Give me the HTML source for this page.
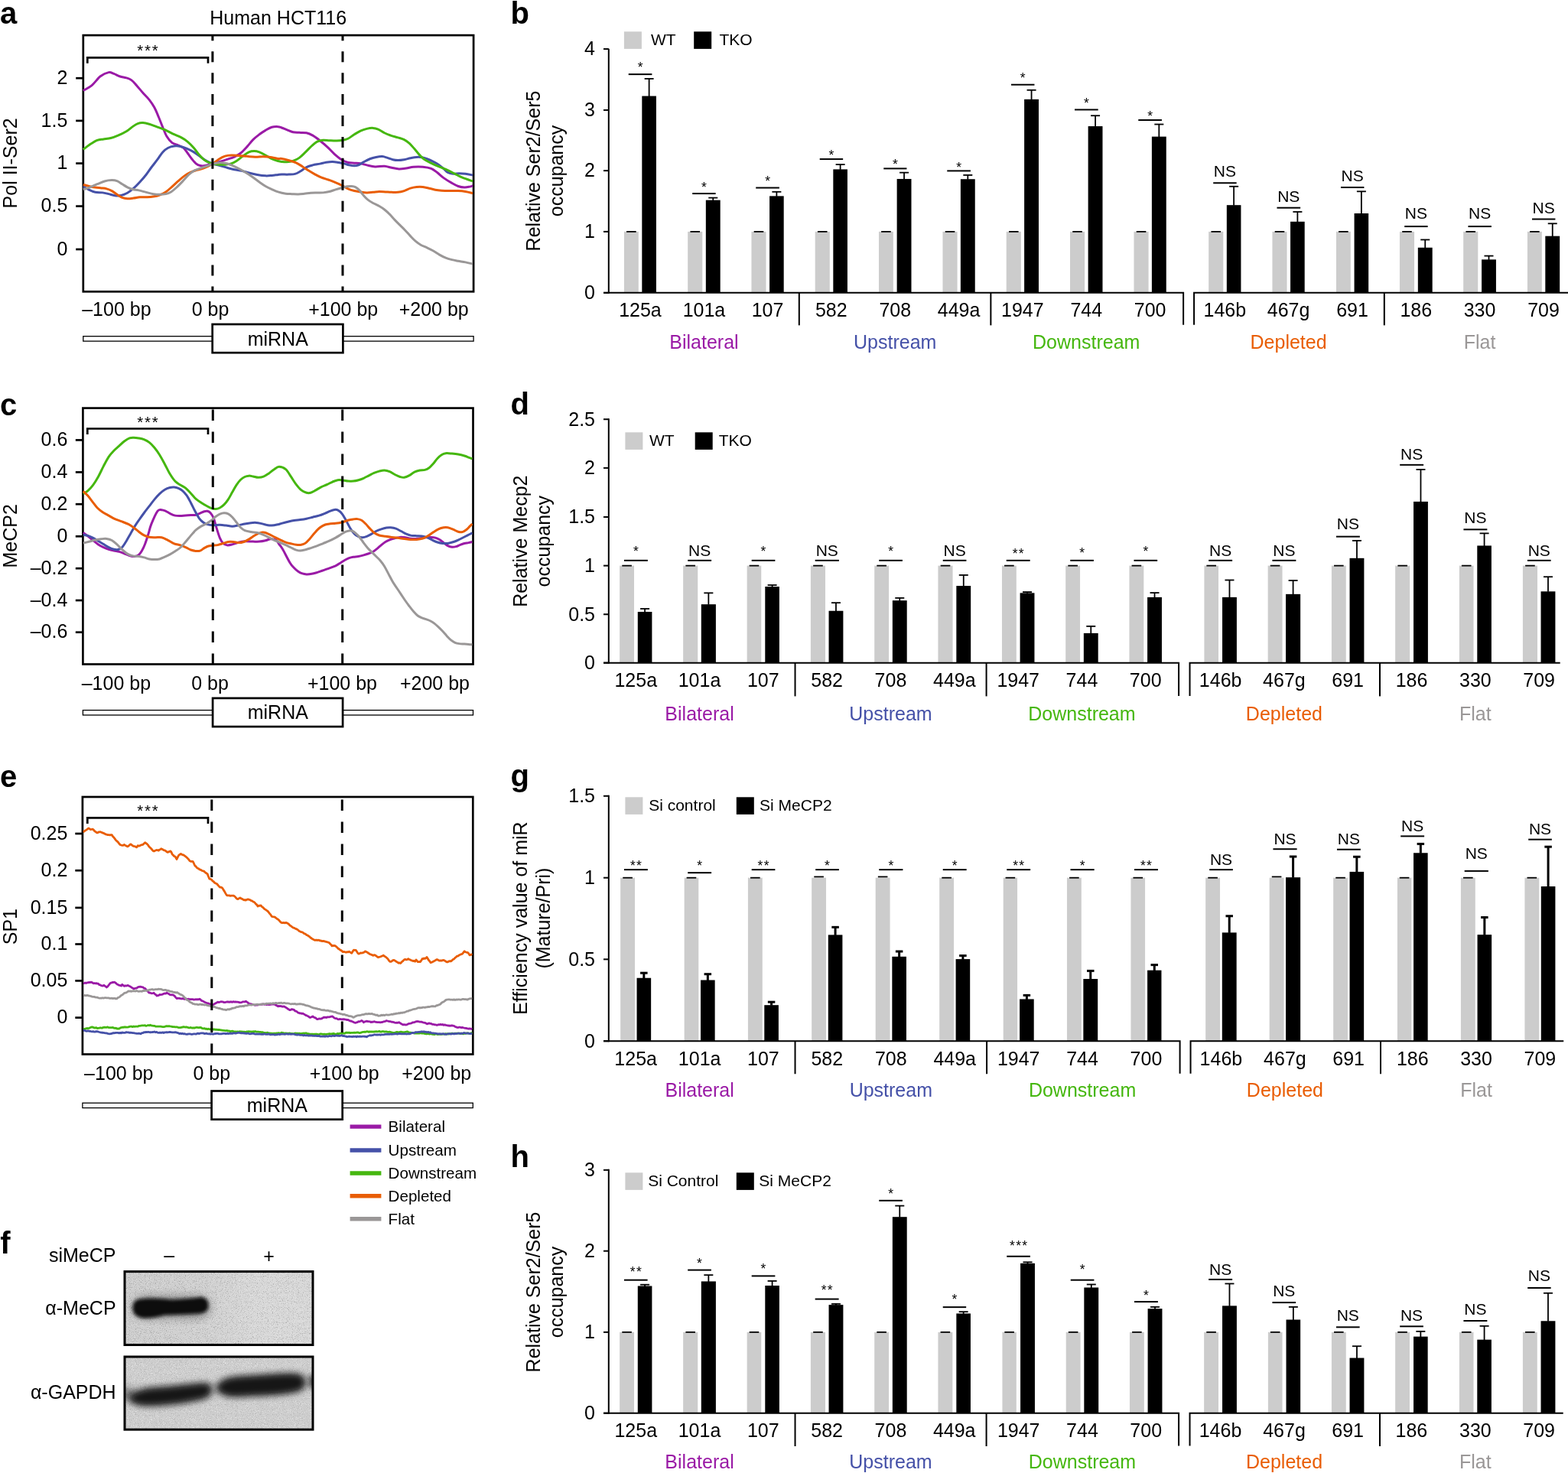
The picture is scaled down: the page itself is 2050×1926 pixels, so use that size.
<!DOCTYPE html>
<html lang="en"><head><meta charset="utf-8"><title>Figure</title>
<style>
html,body{margin:0;padding:0;background:#fff;width:2050px;height:1926px;overflow:hidden}
svg{display:block}
text{font-family:"Liberation Sans",sans-serif}
</style></head><body>
<svg width="2050" height="1926" viewBox="0 0 2050 1926" font-family="Liberation Sans, sans-serif" font-size="25" fill="#000" role="img" aria-label="Multi-panel figure: line profiles, bar charts and western blot">
<rect width="2050" height="1926" fill="#fff"/>
<clipPath id="clip_a"><rect x="107.9" y="46.1" width="512.1" height="335.2"/></clipPath>
<rect x="108.8" y="46.1" width="510.3" height="335.2" fill="none" stroke="#000" stroke-width="2.7"/>
<g clip-path="url(#clip_a)">
<path d="M108.83 118.5C110.75 117.3 116.64 114.43 120.37 111.3C124.11 108.18 127.62 102.54 131.24 99.76C134.86 96.97 139.16 95.16 142.1 94.6C145.05 94.03 146.4 95.46 148.89 96.36C151.38 97.27 154.33 99.12 157.04 100.03C159.76 100.94 162.7 100.98 165.19 101.8C167.68 102.61 169.72 103.22 171.98 104.92C174.25 106.62 176.28 109.22 178.77 111.98C181.26 114.74 184.21 118.43 186.92 121.49C189.64 124.54 192.58 127.15 195.07 130.32C197.56 133.49 199.82 136.77 201.86 140.5C203.9 144.24 205.48 148.43 207.29 152.73C209.1 157.03 210.92 162.01 212.73 166.31C214.54 170.61 216.12 175.14 218.16 178.53C220.2 181.93 222.46 184.76 224.95 186.68C227.44 188.6 230.61 188.94 233.1 190.08C235.59 191.21 237.85 191.77 239.89 193.47C241.93 195.17 243.51 197.88 245.32 200.26C247.13 202.64 248.94 205.47 250.75 207.73C252.57 209.99 254.38 212.37 256.19 213.84C258 215.31 259.58 216.11 261.62 216.56C263.66 217.01 265.69 217.01 268.41 216.56C271.13 216.11 274.75 214.7 277.92 213.84C281.09 212.98 284.26 212.3 287.42 211.4C290.59 210.49 293.76 209.47 296.93 208.41C300.1 207.35 303.5 206.37 306.44 205.02C309.38 203.66 311.87 202.41 314.59 200.26C317.3 198.11 320.02 195.06 322.74 192.11C325.45 189.17 328.17 185.32 330.89 182.61C333.6 179.89 336.32 177.85 339.03 175.81C341.75 173.78 344.47 171.97 347.18 170.38C349.9 168.8 352.62 167.1 355.33 166.31C358.05 165.52 361.34 165.52 363.48 165.63C365.62 165.74 366.24 166.31 368.15 166.99C370.06 167.67 372.45 168.73 374.94 169.7C377.43 170.68 380.37 172.22 383.09 172.83C385.8 173.44 388.29 173.21 391.24 173.37C394.18 173.53 397.8 173.14 400.74 173.78C403.69 174.41 405.95 175.48 408.89 177.17C411.84 178.87 415.23 181.47 418.4 183.96C421.57 186.45 424.74 189.17 427.91 192.11C431.08 195.06 434.25 198.79 437.41 201.62C440.58 204.45 443.98 207.28 446.92 209.09C449.86 210.9 452.35 211.81 455.07 212.48C457.79 213.16 460.5 212.94 463.22 213.16C465.94 213.39 468.65 213.39 471.37 213.84C474.08 214.3 476.35 215.2 479.52 215.88C482.69 216.56 486.53 217.69 490.38 217.92C494.23 218.14 498.98 217.01 502.61 217.24C506.23 217.46 508.94 218.66 512.11 219.28C515.28 219.89 518.45 220.79 521.62 220.91C524.79 221.02 527.96 220.41 531.13 219.95C534.3 219.5 537.01 218.48 540.63 218.19C544.26 217.89 549.01 217.83 552.86 218.19C556.71 218.55 560.55 219.1 563.72 220.37C566.89 221.64 569.15 223.77 571.87 225.8C574.59 227.84 576.85 230.33 580.02 232.6C583.19 234.86 587.72 237.58 590.89 239.39C594.05 241.2 596.32 242.51 599.03 243.46C601.75 244.41 604.69 244.98 607.18 245.09C609.67 245.2 612.16 244.52 613.97 244.14C615.78 243.76 617.37 243.01 618.05 242.78" fill="none" stroke="#9a1aa6" stroke-width="3" stroke-linejoin="round" stroke-linecap="butt"/>
<path d="M108.83 243.73C110.07 244.48 113.69 246.95 116.3 248.21C118.9 249.48 121.5 250.73 124.45 251.34C127.39 251.95 131.01 251.5 133.95 251.88C136.9 252.27 139.39 253.01 142.1 253.65C144.82 254.28 147.54 255.39 150.25 255.68C152.97 255.98 155.68 255.98 158.4 255.41C161.12 254.85 163.83 253.83 166.55 252.29C169.27 250.75 171.98 248.55 174.7 246.18C177.41 243.8 180.13 240.97 182.85 238.03C185.56 235.09 188.51 231.69 191 228.52C193.49 225.35 195.3 222.37 197.79 219.01C200.28 215.66 203.45 211.76 205.94 208.41C208.43 205.06 210.46 201.39 212.73 198.9C214.99 196.41 217.03 194.78 219.52 193.47C222.01 192.16 224.95 191.37 227.67 191.03C230.38 190.69 233.1 190.91 235.81 191.43C238.53 191.95 241.02 192.9 243.96 194.15C246.91 195.39 250.3 196.98 253.47 198.9C256.64 200.83 260.04 203.66 262.98 205.69C265.92 207.73 268.64 209.72 271.13 211.13C273.62 212.53 275.2 213.21 277.92 214.11C280.63 215.02 284.26 215.7 287.42 216.56C290.59 217.42 293.76 218.42 296.93 219.28C300.1 220.14 303.27 221.04 306.44 221.72C309.61 222.4 312.78 222.63 315.95 223.35C319.11 224.07 322.06 225.21 325.45 226.07C328.85 226.93 332.7 227.88 336.32 228.51C339.94 229.14 344.01 229.71 347.18 229.87C350.35 230.03 352.62 229.69 355.33 229.46C358.05 229.24 361.34 228.74 363.48 228.51C365.62 228.28 365.79 228.17 368.15 228.1C370.51 228.04 374.71 228.22 377.66 228.1C380.6 227.99 383.31 228.1 385.8 227.42C388.29 226.75 390.11 225.5 392.6 224.03C395.09 222.56 398.03 219.95 400.74 218.6C403.46 217.24 405.95 216.63 408.89 215.88C411.84 215.13 415.46 214.73 418.4 214.11C421.34 213.5 423.83 212.67 426.55 212.21C429.27 211.76 431.98 211.35 434.7 211.4C437.41 211.44 440.36 212.08 442.85 212.48C445.34 212.89 447.37 213.28 449.64 213.84C451.9 214.41 454.16 215.38 456.43 215.88C458.69 216.38 461.18 216.83 463.22 216.83C465.26 216.83 466.61 216.72 468.65 215.88C470.69 215.04 472.95 213.16 475.44 211.81C477.93 210.45 480.88 208.8 483.59 207.73C486.31 206.67 489.02 205.94 491.74 205.42C494.46 204.9 497.4 204.45 499.89 204.61C502.38 204.77 504.42 205.69 506.68 206.37C508.94 207.05 511.21 208.16 513.47 208.68C515.73 209.2 517.77 209.5 520.26 209.5C522.75 209.5 525.69 209.13 528.41 208.68C531.13 208.23 533.84 207.32 536.56 206.78C539.28 206.24 542.22 205.6 544.71 205.42C547.2 205.24 549.24 205.31 551.5 205.69C553.76 206.08 555.8 206.78 558.29 207.73C560.78 208.68 563.95 210.15 566.44 211.4C568.93 212.64 570.97 213.66 573.23 215.2C575.49 216.74 577.98 218.94 580.02 220.63C582.06 222.33 583.42 224.3 585.45 225.39C587.49 226.47 589.75 226.93 592.24 227.15C594.73 227.38 597.68 226.75 600.39 226.75C603.11 226.75 605.6 226.77 608.54 227.15C611.48 227.54 616.46 228.74 618.05 229.05" fill="none" stroke="#4551a8" stroke-width="3" stroke-linejoin="round" stroke-linecap="butt"/>
<path d="M108.83 195.51C110.3 194.38 114.6 190.75 117.66 188.72C120.71 186.68 124.22 184.42 127.16 183.28C130.11 182.15 132.37 182.38 135.31 181.93C138.25 181.47 141.65 181.36 144.82 180.57C147.99 179.78 150.93 178.64 154.33 177.17C157.72 175.7 162.02 173.66 165.19 171.74C168.36 169.82 170.85 167.33 173.34 165.63C175.83 163.93 177.87 162.39 180.13 161.55C182.39 160.72 184.43 160.49 186.92 160.6C189.41 160.72 192.13 161.4 195.07 162.23C198.01 163.07 201.18 164.38 204.58 165.63C207.97 166.87 211.82 168.12 215.44 169.7C219.06 171.29 222.69 173.44 226.31 175.14C229.93 176.83 234 178.19 237.17 179.89C240.34 181.59 242.61 183.06 245.32 185.32C248.04 187.59 250.98 190.64 253.47 193.47C255.96 196.3 258 199.7 260.26 202.3C262.53 204.9 264.79 207.35 267.05 209.09C269.32 210.83 272.03 211.96 273.84 212.76C275.65 213.55 275.88 213.44 277.92 213.84C279.95 214.25 283.35 214.97 286.07 215.2C288.78 215.43 291.5 215.43 294.22 215.2C296.93 214.97 299.87 214.64 302.36 213.84C304.85 213.05 306.66 212.03 309.15 210.45C311.64 208.86 314.59 206.26 317.3 204.34C320.02 202.41 322.96 200.04 325.45 198.9C327.94 197.77 329.98 197.55 332.24 197.55C334.51 197.55 336.54 198 339.03 198.9C341.52 199.81 344.47 201.51 347.18 202.98C349.9 204.45 352.62 206.49 355.33 207.73C358.05 208.98 361.34 209.84 363.48 210.45C365.62 211.06 366.24 211.17 368.15 211.4C370.06 211.62 372.45 211.96 374.94 211.81C377.43 211.65 380.37 211.35 383.09 210.45C385.8 209.54 388.52 208.3 391.24 206.37C393.95 204.45 396.67 201.51 399.39 198.9C402.1 196.3 405.05 193.02 407.54 190.75C410.03 188.49 411.84 186.57 414.33 185.32C416.82 184.08 419.76 183.56 422.47 183.28C425.19 183.01 427.68 183.58 430.62 183.69C433.57 183.81 437.19 184.03 440.13 183.96C443.07 183.9 445.79 183.74 448.28 183.28C450.77 182.83 452.58 182.49 455.07 181.25C457.56 180 460.5 177.51 463.22 175.81C465.94 174.12 468.65 172.31 471.37 171.06C474.08 169.82 476.8 168.96 479.52 168.35C482.23 167.73 485.18 167.28 487.67 167.39C490.16 167.51 491.97 167.96 494.46 169.02C496.95 170.09 499.89 172.42 502.61 173.78C505.32 175.14 507.81 176.15 510.75 177.17C513.7 178.19 517.32 178.98 520.26 179.89C523.2 180.79 525.92 181.36 528.41 182.61C530.9 183.85 532.94 185.32 535.2 187.36C537.46 189.4 539.5 192 541.99 194.83C544.48 197.66 547.65 201.85 550.14 204.34C552.63 206.83 554.22 208.07 556.93 209.77C559.65 211.47 563.27 213.05 566.44 214.52C569.61 215.99 572.78 217.24 575.95 218.6C579.11 219.95 582.28 221.2 585.45 222.67C588.62 224.14 591.79 225.84 594.96 227.42C598.13 229.01 600.62 230.59 604.47 232.18C608.31 233.76 615.78 236.14 618.05 236.93" fill="none" stroke="#45b70f" stroke-width="3" stroke-linejoin="round" stroke-linecap="butt"/>
<path d="M108.83 241.42C110.07 241.76 113.69 242.85 116.3 243.46C118.9 244.07 121.73 244.68 124.45 245.09C127.16 245.5 130.11 245.61 132.6 245.91C135.09 246.2 137.12 246.24 139.39 246.86C141.65 247.47 143.91 248.33 146.18 249.57C148.44 250.82 150.7 252.85 152.97 254.33C155.23 255.8 157.49 257.49 159.76 258.4C162.02 259.31 164.06 259.65 166.55 259.76C169.04 259.87 171.98 259.42 174.7 259.08C177.41 258.74 179.9 257.95 182.85 257.72C185.79 257.49 189.41 257.83 192.35 257.72C195.3 257.61 197.79 257.49 200.5 257.04C203.22 256.59 205.94 256.02 208.65 255.01C211.37 253.99 214.08 252.74 216.8 250.93C219.52 249.12 222.23 246.52 224.95 244.14C227.67 241.76 230.38 239.05 233.1 236.67C235.81 234.29 238.53 231.8 241.25 229.88C243.96 227.96 246.68 226.37 249.4 225.13C252.11 223.88 254.6 223.31 257.55 222.41C260.49 221.5 263.66 221.05 267.05 219.69C270.45 218.34 274.75 216.18 277.92 214.26C281.09 212.34 283.35 209.85 286.07 208.15C288.78 206.45 291.5 204.93 294.22 204.07C296.93 203.21 299.42 203.1 302.36 202.99C305.31 202.87 308.48 203.17 311.87 203.4C315.27 203.62 319.11 204.05 322.74 204.35C326.36 204.64 329.98 205.09 333.6 205.16C337.22 205.23 340.85 204.66 344.47 204.75C348.09 204.84 352.16 205.25 355.33 205.7C358.5 206.16 361.34 207.18 363.48 207.47C365.62 207.76 365.79 207.09 368.15 207.47C370.51 207.85 374.49 208.87 377.66 209.78C380.82 210.68 384.22 211.59 387.16 212.9C390.11 214.22 392.6 215.96 395.31 217.66C398.03 219.35 400.74 221.39 403.46 223.09C406.18 224.79 408.89 226.37 411.61 227.84C414.33 229.31 416.82 230.72 419.76 231.92C422.7 233.12 426.32 234.02 429.27 235.04C432.21 236.06 434.47 236.81 437.41 238.03C440.36 239.25 443.98 240.9 446.92 242.37C449.86 243.85 452.35 245.66 455.07 246.86C457.79 248.06 460.5 248.89 463.22 249.57C465.94 250.25 468.65 250.55 471.37 250.93C474.08 251.32 476.8 251.81 479.52 251.88C482.23 251.95 484.95 251.56 487.67 251.34C490.38 251.11 493.1 250.59 495.81 250.52C498.53 250.46 501.25 250.79 503.96 250.93C506.68 251.07 509.4 251.27 512.11 251.34C514.83 251.41 517.55 251.63 520.26 251.34C522.98 251.04 525.69 250.43 528.41 249.57C531.13 248.71 533.84 247.01 536.56 246.18C539.28 245.34 541.99 244.82 544.71 244.55C547.42 244.28 550.14 244.28 552.86 244.55C555.57 244.82 558.29 245.57 561.01 246.18C563.72 246.79 566.44 247.72 569.15 248.21C571.87 248.71 574.13 248.94 577.3 249.16C580.47 249.39 584.55 249.5 588.17 249.57C591.79 249.64 595.64 249.41 599.03 249.57C602.43 249.73 605.37 250 608.54 250.52C611.71 251.04 616.46 252.33 618.05 252.7" fill="none" stroke="#e95d04" stroke-width="3" stroke-linejoin="round" stroke-linecap="butt"/>
<path d="M108.83 247.81C110.3 247.31 114.6 246 117.66 244.82C120.71 243.64 123.99 242.06 127.16 240.74C130.33 239.43 133.5 237.8 136.67 236.94C139.84 236.08 143.46 235.63 146.18 235.58C148.89 235.54 150.7 235.81 152.97 236.67C155.23 237.53 157.49 239.39 159.76 240.74C162.02 242.1 164.29 243.69 166.55 244.82C168.81 245.95 170.85 246.86 173.34 247.54C175.83 248.21 178.55 248.26 181.49 248.89C184.43 249.53 187.83 250.55 191 251.34C194.16 252.13 197.56 253.15 200.5 253.65C203.45 254.14 205.94 254.33 208.65 254.33C211.37 254.33 214.31 254.21 216.8 253.65C219.29 253.08 221.33 252.29 223.59 250.93C225.86 249.57 227.89 247.76 230.38 245.5C232.87 243.23 235.81 240.18 238.53 237.35C241.25 234.52 244.19 230.85 246.68 228.52C249.17 226.19 250.98 224.76 253.47 223.36C255.96 221.96 258.9 221.1 261.62 220.1C264.34 219.1 267.05 218.36 269.77 217.38C272.48 216.41 275.43 215.01 277.92 214.26C280.41 213.51 282.44 213.13 284.71 212.9C286.97 212.68 289.24 212.68 291.5 212.9C293.76 213.13 295.8 213.47 298.29 214.26C300.78 215.05 303.72 216.41 306.44 217.66C309.15 218.9 311.87 220.26 314.59 221.73C317.3 223.2 320.02 224.79 322.74 226.48C325.45 228.18 328.17 229.99 330.89 231.92C333.6 233.84 336.32 236.1 339.03 238.03C341.75 239.95 344.47 241.88 347.18 243.46C349.9 245.05 352.62 246.29 355.33 247.54C358.05 248.78 360.44 249.98 363.48 250.93C366.52 251.88 370.54 252.79 373.58 253.24C376.62 253.69 379.01 253.53 381.73 253.65C384.45 253.76 387.16 253.99 389.88 253.92C392.6 253.85 395.31 253.51 398.03 253.24C400.74 252.97 403.46 252.49 406.18 252.29C408.89 252.09 411.61 252.09 414.33 252.02C417.04 251.95 419.76 252.13 422.47 251.88C425.19 251.63 427.91 251.2 430.62 250.52C433.34 249.84 436.06 248.64 438.77 247.81C441.49 246.97 444.43 246.18 446.92 245.5C449.41 244.82 451.68 244.07 453.71 243.73C455.75 243.39 457.33 243.32 459.14 243.46C460.96 243.6 462.77 243.64 464.58 244.55C466.39 245.45 468.2 247.04 470.01 248.89C471.82 250.75 473.63 253.65 475.44 255.68C477.25 257.72 478.84 259.49 480.88 261.12C482.91 262.75 485.18 264.06 487.67 265.46C490.16 266.87 493.32 268.11 495.81 269.54C498.3 270.96 500.34 272.25 502.61 274.02C504.87 275.78 507.13 277.87 509.4 280.13C511.66 282.39 513.92 285.22 516.19 287.6C518.45 289.98 520.71 292.13 522.98 294.39C525.24 296.65 527.51 298.81 529.77 301.18C532.03 303.56 534.3 306.28 536.56 308.65C538.82 311.03 541.09 313.52 543.35 315.44C545.61 317.37 547.65 318.79 550.14 320.2C552.63 321.6 555.57 322.57 558.29 323.86C561.01 325.15 563.72 326.4 566.44 327.94C569.15 329.48 571.87 331.56 574.59 333.1C577.3 334.64 580.02 336.09 582.74 337.17C585.45 338.26 588.17 338.94 590.89 339.62C593.6 340.3 596.09 340.7 599.03 341.25C601.98 341.79 605.37 342.24 608.54 342.88C611.71 343.51 616.46 344.69 618.05 345.05" fill="none" stroke="#9a9797" stroke-width="3" stroke-linejoin="round" stroke-linecap="butt"/>
</g>
<line x1="277.9" y1="46.1" x2="277.9" y2="381.3" stroke="#000" stroke-width="3" stroke-dasharray="14 13.93" stroke-dashoffset="6.83"/>
<line x1="448" y1="46.1" x2="448" y2="381.3" stroke="#000" stroke-width="3" stroke-dasharray="14 13.93" stroke-dashoffset="6.83"/>
<line x1="99.2" y1="102.2" x2="108.8" y2="102.2" stroke="#000" stroke-width="2.7"/>
<text x="88.3" y="109.9" text-anchor="end">2</text>
<line x1="99.2" y1="157.9" x2="108.8" y2="157.9" stroke="#000" stroke-width="2.7"/>
<text x="88.3" y="165.6" text-anchor="end">1.5</text>
<line x1="99.2" y1="213.6" x2="108.8" y2="213.6" stroke="#000" stroke-width="2.7"/>
<text x="88.3" y="221.3" text-anchor="end">1</text>
<line x1="99.2" y1="269.6" x2="108.8" y2="269.6" stroke="#000" stroke-width="2.7"/>
<text x="88.3" y="277.3" text-anchor="end">0.5</text>
<line x1="99.2" y1="326" x2="108.8" y2="326" stroke="#000" stroke-width="2.7"/>
<text x="88.3" y="333.7" text-anchor="end">0</text>
<path d="M114.3 82.8 V75.3 H272 V82.8" fill="none" stroke="#000" stroke-width="2.7"/>
<text x="179.3" y="73.32" font-size="20.5" letter-spacing="1.73">***</text>
<text x="107.2" y="412.8">–100 bp</text>
<text x="275" y="412.8" text-anchor="middle">0 bp</text>
<text x="448.7" y="412.8" text-anchor="middle">+100 bp</text>
<text x="567.2" y="412.8" text-anchor="middle">+200 bp</text>
<rect x="108.8" y="439.7" width="510.3" height="6.4" fill="#fff" stroke="#000" stroke-width="1.3"/>
<rect x="277.7" y="424" width="170.7" height="37.2" fill="#fff" stroke="#000" stroke-width="2.7"/>
<text x="363.25" y="451.5" text-anchor="middle">miRNA</text>
<text text-anchor="middle" transform="translate(21.8 213.4) rotate(-90)">Pol II-Ser2</text>
<text x="363.7" y="31.9" text-anchor="middle">Human HCT116</text>
<text x="0" y="31.4" font-weight="bold" font-size="40">a</text>
<clipPath id="clip_c"><rect x="107.5" y="533.6" width="511.9" height="334.9"/></clipPath>
<rect x="108.4" y="533.6" width="510.1" height="334.9" fill="none" stroke="#000" stroke-width="2.7"/>
<g clip-path="url(#clip_c)">
<path d="M108.83 696.57C109.85 697.32 112.79 699.4 114.94 701.05C117.09 702.7 119.47 704.67 121.73 706.48C123.99 708.29 126.26 710.4 128.52 711.92C130.78 713.43 133.05 714.52 135.31 715.58C137.58 716.65 139.84 717.55 142.1 718.3C144.37 719.05 146.63 719.54 148.89 720.07C151.16 720.59 153.42 720.81 155.68 721.42C157.95 722.03 160.21 722.89 162.47 723.73C164.74 724.57 167 725.81 169.27 726.45C171.53 727.08 174.02 727.69 176.06 727.54C178.09 727.38 179.9 726.74 181.49 725.5C183.07 724.25 184.21 722.44 185.56 720.07C186.92 717.69 188.28 714.75 189.64 711.24C191 707.73 192.35 703.31 193.71 699.01C195.07 694.71 195.75 690.55 197.79 685.43C199.82 680.32 203.67 671.44 205.94 668.31C208.2 665.18 209.56 666.68 211.37 666.68C213.18 666.68 214.99 667.52 216.8 668.31C218.61 669.1 220.2 670.46 222.23 671.43C224.27 672.41 226.76 673.63 229.02 674.15C231.29 674.67 233.55 674.6 235.81 674.56C238.08 674.51 240.34 674.06 242.61 673.88C244.87 673.7 247.13 673.58 249.4 673.47C251.66 673.36 254.15 673.61 256.19 673.2C258.22 672.79 259.81 671.77 261.62 671.03C263.43 670.28 265.47 669.17 267.05 668.72C268.64 668.26 269.77 667.97 271.13 668.31C272.48 668.65 273.84 669.22 275.2 670.75C276.56 672.29 277.92 674.15 279.28 677.55C280.63 680.94 281.99 686.83 283.35 691.13C284.71 695.43 286.07 700.18 287.42 703.35C288.78 706.52 289.91 708.56 291.5 710.14C293.08 711.73 294.89 712.56 296.93 712.86C298.97 713.15 301.23 712.52 303.72 711.91C306.21 711.3 309.15 709.87 311.87 709.19C314.59 708.51 316.85 708.01 320.02 707.83C323.19 707.65 327.72 708.06 330.89 708.1C334.05 708.15 336.32 708.33 339.03 708.1C341.75 707.88 344.69 707.31 347.18 706.75C349.67 706.18 351.71 704.82 353.97 704.71C356.24 704.6 358.95 704.93 360.76 706.07C362.58 707.2 363.38 709.51 364.84 711.5C366.3 713.49 367.14 714 369.51 718.03C371.87 722.06 376.52 731.61 379.01 735.68C381.5 739.76 382.64 740.55 384.45 742.47C386.26 744.4 388.07 745.98 389.88 747.23C391.69 748.47 393.5 749.33 395.31 749.94C397.12 750.56 398.71 750.83 400.74 750.9C402.78 750.96 405.27 750.74 407.54 750.35C409.8 749.97 412.06 749.27 414.33 748.59C416.59 747.91 418.85 747.07 421.12 746.28C423.38 745.49 425.64 744.65 427.91 743.83C430.17 743.02 432.66 742.18 434.7 741.39C436.74 740.6 438.32 740.03 440.13 739.08C441.94 738.13 443.75 736.82 445.56 735.68C447.37 734.55 449.19 733.31 451 732.29C452.81 731.27 454.62 730.25 456.43 729.57C458.24 728.89 459.82 728.55 461.86 728.21C463.9 727.87 466.39 727.92 468.65 727.54C470.92 727.15 473.18 726.54 475.44 725.91C477.71 725.27 480.2 724.48 482.23 723.73C484.27 722.99 485.86 722.49 487.67 721.42C489.48 720.36 491.29 718.82 493.1 717.35C494.91 715.88 496.72 714.07 498.53 712.6C500.34 711.12 502.15 709.65 503.96 708.52C505.77 707.39 507.36 706.6 509.4 705.8C511.43 705.01 513.92 704.33 516.19 703.77C518.45 703.2 520.71 702.57 522.98 702.41C525.24 702.25 527.51 702.52 529.77 702.82C532.03 703.11 534.3 703.9 536.56 704.18C538.82 704.45 541.09 704.51 543.35 704.45C545.61 704.38 547.88 704.04 550.14 703.77C552.4 703.5 554.67 703.04 556.93 702.82C559.2 702.59 561.69 702.36 563.72 702.41C565.76 702.45 567.34 702.57 569.15 703.09C570.97 703.61 572.78 704.45 574.59 705.53C576.4 706.62 578.21 708.25 580.02 709.61C581.83 710.97 583.64 712.73 585.45 713.68C587.26 714.63 589.07 715.15 590.89 715.31C592.7 715.47 594.51 715.13 596.32 714.63C598.13 714.13 599.94 713 601.75 712.32C603.56 711.64 605.37 711.01 607.18 710.56C608.99 710.11 610.92 709.95 612.62 709.61C614.31 709.27 616.58 708.7 617.37 708.52" fill="none" stroke="#9a1aa6" stroke-width="3" stroke-linejoin="round" stroke-linecap="butt"/>
<path d="M108.83 699.28C109.85 699.46 112.79 699.68 114.94 700.36C117.09 701.04 119.47 702.17 121.73 703.35C123.99 704.53 126.26 706.07 128.52 707.42C130.78 708.78 133.05 710.14 135.31 711.5C137.58 712.86 139.84 714.44 142.1 715.57C144.37 716.71 146.86 717.79 148.89 718.29C150.93 718.79 152.52 719.01 154.33 718.56C156.14 718.11 157.95 717.43 159.76 715.57C161.57 713.72 163.38 710.37 165.19 707.42C167 704.48 168.81 701.09 170.62 697.92C172.43 694.75 174.25 691.35 176.06 688.41C177.87 685.47 179.45 683.2 181.49 680.26C183.53 677.32 186.02 673.81 188.28 670.75C190.54 667.7 192.81 664.87 195.07 661.93C197.33 658.98 199.6 655.81 201.86 653.1C204.12 650.38 206.39 647.78 208.65 645.63C210.92 643.48 213.18 641.55 215.44 640.2C217.71 638.84 220.2 638 222.23 637.48C224.27 636.96 225.86 636.91 227.67 637.07C229.48 637.23 231.29 637.68 233.1 638.43C234.91 639.18 236.72 640.02 238.53 641.55C240.34 643.09 242.15 645.06 243.96 647.67C245.77 650.27 247.59 653.78 249.4 657.17C251.21 660.57 253.02 664.64 254.83 668.04C256.64 671.43 258.45 675.06 260.26 677.55C262.07 680.04 263.88 681.62 265.69 682.98C267.51 684.34 269.09 685.06 271.13 685.69C273.16 686.33 275.2 686.67 277.92 686.78C280.63 686.89 284.48 686.33 287.42 686.37C290.37 686.42 292.86 686.76 295.57 687.05C298.29 687.35 301.01 688.18 303.72 688.14C306.44 688.09 309.15 687.3 311.87 686.78C314.59 686.26 317.3 685.54 320.02 685.02C322.74 684.49 325.68 683.93 328.17 683.66C330.66 683.39 332.7 683.23 334.96 683.39C337.22 683.54 339.49 684.11 341.75 684.61C344.01 685.11 346.28 685.97 348.54 686.37C350.8 686.78 352.84 687.17 355.33 687.05C357.82 686.94 361.34 686.15 363.48 685.69C365.62 685.24 366.01 684.9 368.15 684.34C370.29 683.77 373.58 682.93 376.3 682.3C379.01 681.66 381.73 680.99 384.45 680.53C387.16 680.08 389.88 679.97 392.6 679.58C395.31 679.2 398.03 678.79 400.74 678.22C403.46 677.66 406.18 676.87 408.89 676.19C411.61 675.51 414.33 675.01 417.04 674.15C419.76 673.29 422.7 672.04 425.19 671.03C427.68 670.01 429.94 668.81 431.98 668.04C434.02 667.27 435.83 666.59 437.41 666.41C439 666.23 439.9 666.11 441.49 666.95C443.07 667.79 445.11 669.22 446.92 671.43C448.73 673.65 450.54 677.09 452.35 680.26C454.16 683.43 455.98 687.51 457.79 690.45C459.6 693.39 461.41 696.04 463.22 697.92C465.03 699.8 466.84 700.93 468.65 701.72C470.46 702.51 472.27 702.74 474.08 702.67C475.9 702.6 477.71 701.99 479.52 701.31C481.33 700.63 482.91 699.73 484.95 698.6C486.99 697.46 489.48 695.65 491.74 694.52C494 693.39 496.27 692.55 498.53 691.81C500.79 691.06 503.28 690.38 505.32 690.04C507.36 689.7 508.72 689.59 510.75 689.77C512.79 689.95 515.28 690.33 517.55 691.13C519.81 691.92 522.07 693.35 524.34 694.52C526.6 695.7 528.86 697.22 531.13 698.19C533.39 699.16 535.65 699.95 537.92 700.36C540.18 700.77 542.44 700.54 544.71 700.63C546.97 700.72 549.24 700.57 551.5 700.91C553.76 701.24 556.03 701.81 558.29 702.67C560.55 703.53 562.82 705 565.08 706.07C567.34 707.13 569.61 708.33 571.87 709.05C574.13 709.78 576.4 710.19 578.66 710.41C580.93 710.64 583.19 710.68 585.45 710.41C587.72 710.14 589.98 709.51 592.24 708.78C594.51 708.06 596.54 707.2 599.03 706.07C601.52 704.93 604.92 703.12 607.18 701.99C609.45 700.86 610.92 700.14 612.62 699.28C614.31 698.42 616.58 697.24 617.37 696.83" fill="none" stroke="#4551a8" stroke-width="3" stroke-linejoin="round" stroke-linecap="butt"/>
<path d="M108.83 645.63C109.85 644.95 112.79 643.48 114.94 641.55C117.09 639.63 119.47 637.14 121.73 634.08C123.99 631.03 126.26 627.29 128.52 623.22C130.78 619.14 133.05 613.94 135.31 609.64C137.58 605.34 139.84 600.81 142.1 597.41C144.37 594.02 146.63 591.64 148.89 589.27C151.16 586.89 153.42 585.19 155.68 583.15C157.95 581.12 160.21 578.74 162.47 577.04C164.74 575.34 167.23 573.76 169.27 572.97C171.3 572.18 172.66 572.29 174.7 572.29C176.74 572.29 179.23 572.58 181.49 572.97C183.75 573.35 186.02 573.69 188.28 574.6C190.54 575.5 192.81 576.63 195.07 578.4C197.33 580.17 199.6 582.47 201.86 585.19C204.12 587.91 206.39 591.08 208.65 594.7C210.92 598.32 213.18 602.73 215.44 606.92C217.71 611.11 219.97 616.09 222.23 619.82C224.5 623.56 226.76 626.95 229.02 629.33C231.29 631.71 233.55 632.61 235.81 634.08C238.08 635.56 240.34 636.35 242.61 638.16C244.87 639.97 247.13 642.57 249.4 644.95C251.66 647.33 253.92 650.38 256.19 652.42C258.45 654.46 260.71 655.7 262.98 657.17C265.24 658.64 267.51 660 269.77 661.25C272.03 662.49 274.52 663.92 276.56 664.64C278.6 665.37 280.18 665.71 281.99 665.59C283.8 665.48 285.61 664.91 287.42 663.96C289.24 663.01 291.05 661.7 292.86 659.89C294.67 658.08 296.48 655.81 298.29 653.1C300.1 650.38 301.91 646.76 303.72 643.59C305.53 640.42 307.34 636.8 309.15 634.08C310.97 631.37 312.78 629.06 314.59 627.29C316.4 625.53 318.21 624.35 320.02 623.49C321.83 622.63 323.64 622.22 325.45 622.13C327.26 622.04 328.85 622.59 330.89 622.95C332.92 623.31 335.41 624.26 337.68 624.31C339.94 624.35 342.2 624.08 344.47 623.22C346.73 622.36 348.99 620.68 351.26 619.14C353.52 617.61 355.78 615.46 358.05 613.98C360.31 612.51 362.25 610.36 364.84 610.32C367.43 610.27 370.99 611.56 373.58 613.71C376.17 615.86 378.11 619.94 380.37 623.22C382.64 626.5 384.9 630.46 387.16 633.41C389.43 636.35 391.69 639.06 393.95 640.88C396.22 642.69 398.71 643.7 400.74 644.27C402.78 644.84 404.14 644.84 406.18 644.27C408.21 643.7 410.7 642.12 412.97 640.88C415.23 639.63 417.27 638.05 419.76 636.8C422.25 635.56 425.42 634.54 427.91 633.41C430.4 632.27 432.43 630.96 434.7 630.01C436.96 629.06 439.23 628.04 441.49 627.7C443.75 627.36 446.02 627.75 448.28 627.97C450.54 628.2 452.81 628.88 455.07 629.06C457.33 629.24 459.6 629.29 461.86 629.06C464.12 628.83 466.39 628.34 468.65 627.7C470.92 627.07 473.18 626.23 475.44 625.26C477.71 624.28 479.97 622.99 482.23 621.86C484.5 620.73 486.76 619.42 489.02 618.47C491.29 617.52 493.55 616.72 495.81 616.16C498.08 615.59 500.34 614.98 502.61 615.07C504.87 615.16 507.13 615.79 509.4 616.7C511.66 617.61 513.92 619.37 516.19 620.5C518.45 621.63 520.94 622.86 522.98 623.49C525.02 624.12 526.37 624.62 528.41 624.31C530.45 623.99 532.94 622.79 535.2 621.59C537.46 620.39 539.73 618.19 541.99 617.11C544.26 616.02 546.52 615.52 548.78 615.07C551.05 614.62 553.54 614.96 555.57 614.39C557.61 613.83 559.2 613.03 561.01 611.68C562.82 610.32 564.63 608.28 566.44 606.24C568.25 604.21 570.06 601.38 571.87 599.45C573.68 597.53 575.49 595.83 577.3 594.7C579.11 593.57 580.47 592.93 582.74 592.66C585 592.39 588.17 592.84 590.89 593.07C593.6 593.29 596.32 593.52 599.03 594.02C601.75 594.52 604.92 595.38 607.18 596.06C609.45 596.74 610.92 597.46 612.62 598.09C614.31 598.73 616.58 599.56 617.37 599.86" fill="none" stroke="#45b70f" stroke-width="3" stroke-linejoin="round" stroke-linecap="butt"/>
<path d="M108.83 642.23C109.85 643.25 112.79 645.86 114.94 648.35C117.09 650.84 119.69 654.57 121.73 657.17C123.77 659.78 125.13 661.93 127.16 663.96C129.2 666 131.46 667.7 133.95 669.4C136.44 671.09 139.39 672.61 142.1 674.15C144.82 675.69 147.54 677.39 150.25 678.63C152.97 679.88 155.46 680.49 158.4 681.62C161.34 682.75 165.19 684.06 167.91 685.42C170.62 686.78 172.43 688.14 174.7 689.77C176.96 691.4 179.23 693.5 181.49 695.2C183.75 696.9 186.02 698.78 188.28 699.95C190.54 701.13 192.58 701.81 195.07 702.26C197.56 702.72 200.5 702.6 203.22 702.67C205.94 702.74 208.65 702.06 211.37 702.67C214.08 703.28 216.8 704.98 219.52 706.34C222.23 707.7 224.95 709.73 227.67 710.82C230.38 711.91 233.32 712.06 235.81 712.86C238.3 713.65 240.34 714.55 242.61 715.57C244.87 716.59 247.13 718.16 249.4 718.98C251.66 719.8 254.15 720.29 256.19 720.47C258.22 720.65 259.81 720.7 261.62 720.07C263.43 719.43 265.24 717.69 267.05 716.67C268.86 715.65 270.67 714.52 272.48 713.95C274.3 713.39 275.88 713.5 277.92 713.27C279.95 713.05 282.44 713.05 284.71 712.6C286.97 712.14 289.24 711.24 291.5 710.56C293.76 709.88 296.03 708.86 298.29 708.52C300.55 708.18 302.82 708.34 305.08 708.52C307.34 708.7 309.61 709.61 311.87 709.61C314.13 709.61 316.4 709.27 318.66 708.52C320.93 707.77 322.96 706.6 325.45 705.13C327.94 703.65 331.11 701.12 333.6 699.69C336.09 698.27 338.36 697.14 340.39 696.57C342.43 696 344.01 696 345.82 696.3C347.64 696.59 349.22 697.43 351.26 698.34C353.29 699.24 355.78 700.6 358.05 701.73C360.31 702.86 362.25 703.91 364.84 705.13C367.43 706.35 370.99 708.11 373.58 709.05C376.17 710 378.11 710.3 380.37 710.82C382.64 711.34 384.9 711.95 387.16 712.18C389.43 712.4 391.92 712.52 393.95 712.18C395.99 711.84 397.58 711.39 399.39 710.14C401.2 708.9 402.78 706.97 404.82 704.71C406.86 702.44 409.35 699.05 411.61 696.56C413.87 694.07 416.14 691.53 418.4 689.77C420.66 688 422.93 686.8 425.19 685.97C427.45 685.13 429.72 685.02 431.98 684.74C434.25 684.47 436.28 684.63 438.77 684.34C441.26 684.04 444.21 683.66 446.92 682.98C449.64 682.3 452.58 680.94 455.07 680.26C457.56 679.58 459.82 679.18 461.86 678.9C463.9 678.63 465.48 678.41 467.29 678.63C469.1 678.86 470.92 679.2 472.73 680.26C474.54 681.33 476.35 683.2 478.16 685.02C479.97 686.83 481.78 689.2 483.59 691.13C485.4 693.05 486.99 695.09 489.02 696.56C491.06 698.03 493.32 699.16 495.81 699.95C498.3 700.75 501.25 700.91 503.96 701.31C506.68 701.72 509.4 702.06 512.11 702.4C514.83 702.74 517.55 703.01 520.26 703.35C522.98 703.69 525.69 704.1 528.41 704.44C531.13 704.78 533.84 705.23 536.56 705.39C539.28 705.55 541.99 705.61 544.71 705.39C547.42 705.16 550.37 704.82 552.86 704.03C555.35 703.24 557.38 701.99 559.65 700.63C561.91 699.28 564.18 697.35 566.44 695.88C568.7 694.41 570.97 692.82 573.23 691.81C575.49 690.79 577.98 690.11 580.02 689.77C582.06 689.43 583.42 689.36 585.45 689.77C587.49 690.18 589.98 691.31 592.24 692.21C594.51 693.12 597 694.64 599.03 695.2C601.07 695.77 602.66 696.06 604.47 695.61C606.28 695.16 608.31 693.68 609.9 692.48C611.48 691.29 612.73 689.66 613.97 688.41C615.22 687.17 616.8 685.58 617.37 685.02" fill="none" stroke="#e95d04" stroke-width="3" stroke-linejoin="round" stroke-linecap="butt"/>
<path d="M108.83 710.15C110.07 709.83 113.69 708.93 116.3 708.25C118.9 707.57 121.73 706.66 124.45 706.08C127.16 705.49 130.11 704.99 132.6 704.72C135.09 704.45 137.12 704.15 139.39 704.45C141.65 704.74 143.91 705.24 146.18 706.48C148.44 707.73 150.7 709.88 152.97 711.92C155.23 713.95 157.49 716.67 159.76 718.71C162.02 720.74 164.29 722.78 166.55 724.14C168.81 725.5 170.85 726.29 173.34 726.86C175.83 727.42 179 727.2 181.49 727.54C183.98 727.87 186.02 728.33 188.28 728.89C190.54 729.46 192.81 730.48 195.07 730.93C197.33 731.38 199.6 731.61 201.86 731.61C204.12 731.61 206.39 731.5 208.65 730.93C210.92 730.36 213.18 729.23 215.44 728.21C217.71 727.2 219.97 726.06 222.23 724.82C224.5 723.57 226.76 722.22 229.02 720.74C231.29 719.27 233.55 718.03 235.81 715.99C238.08 713.95 240.34 711.12 242.61 708.52C244.87 705.92 247.13 702.98 249.4 700.37C251.66 697.77 253.92 694.94 256.19 692.9C258.45 690.87 260.71 689.51 262.98 688.15C265.24 686.79 267.51 686.07 269.77 684.75C272.03 683.44 274.52 681.8 276.56 680.26C278.6 678.72 280.18 676.87 281.99 675.51C283.8 674.15 285.61 672.9 287.42 672.11C289.24 671.32 291.05 670.8 292.86 670.75C294.67 670.71 296.48 670.94 298.29 671.84C300.1 672.75 301.91 674.33 303.72 676.19C305.53 678.04 307.34 680.71 309.15 682.98C310.97 685.24 312.78 688 314.59 689.77C316.4 691.53 317.76 692.62 320.02 693.57C322.28 694.52 325.45 694.97 328.17 695.47C330.89 695.97 333.6 695.93 336.32 696.56C339.03 697.19 341.98 698.26 344.47 699.28C346.96 700.29 348.99 701.54 351.26 702.67C353.52 703.8 355.78 705.05 358.05 706.07C360.31 707.09 362.25 707.69 364.84 708.78C367.43 709.87 370.99 711.39 373.58 712.6C376.17 713.8 378.11 714.9 380.37 715.99C382.64 717.08 385.13 718.44 387.16 719.11C389.2 719.79 390.56 720.13 392.6 720.07C394.63 720 397.12 719.27 399.39 718.71C401.65 718.14 403.69 717.46 406.18 716.67C408.67 715.88 411.61 714.97 414.33 713.95C417.04 712.94 419.76 711.69 422.47 710.56C425.19 709.43 427.91 708.41 430.62 707.16C433.34 705.92 436.28 704.45 438.77 703.09C441.26 701.73 443.53 700.26 445.56 699.01C447.6 697.77 449.19 696.46 451 695.62C452.81 694.78 454.84 694.22 456.43 693.99C458.01 693.76 459.14 693.76 460.5 694.26C461.86 694.76 462.99 695.62 464.58 696.98C466.16 698.34 468.2 700.26 470.01 702.41C471.82 704.56 473.63 707.5 475.44 709.88C477.25 712.26 479.06 714.63 480.88 716.67C482.69 718.71 484.5 720.29 486.31 722.1C488.12 723.91 489.93 725.72 491.74 727.54C493.55 729.35 495.36 730.82 497.17 732.97C498.98 735.12 500.79 737.49 502.61 740.44C504.42 743.38 506.23 747.23 508.04 750.62C509.85 754.02 511.66 757.75 513.47 760.81C515.28 763.87 517.09 766.24 518.9 768.96C520.71 771.68 522.53 774.39 524.34 777.11C526.15 779.82 527.96 782.65 529.77 785.26C531.58 787.86 533.39 790.35 535.2 792.73C537.01 795.1 538.82 797.48 540.63 799.52C542.44 801.55 544.26 803.55 546.07 804.95C547.88 806.35 549.69 807.15 551.5 807.94C553.31 808.73 555.12 809.07 556.93 809.7C558.74 810.34 560.55 810.84 562.36 811.74C564.18 812.65 565.99 813.78 567.8 815.14C569.61 816.49 571.42 818.19 573.23 819.89C575.04 821.59 576.85 823.4 578.66 825.32C580.47 827.25 582.28 829.51 584.09 831.43C585.91 833.36 587.72 835.39 589.53 836.87C591.34 838.34 593.15 839.47 594.96 840.26C596.77 841.05 598.36 841.33 600.39 841.62C602.43 841.91 605.15 841.89 607.18 842.03C609.22 842.16 610.92 842.28 612.62 842.43C614.31 842.59 616.58 842.89 617.37 842.98" fill="none" stroke="#9a9797" stroke-width="3" stroke-linejoin="round" stroke-linecap="butt"/>
</g>
<line x1="278.3" y1="533.6" x2="278.3" y2="868.5" stroke="#000" stroke-width="3" stroke-dasharray="14.3 14.7" stroke-dashoffset="-2"/>
<line x1="447.7" y1="533.6" x2="447.7" y2="868.5" stroke="#000" stroke-width="3" stroke-dasharray="14.3 14.7" stroke-dashoffset="-2"/>
<line x1="98.8" y1="575.4" x2="108.4" y2="575.4" stroke="#000" stroke-width="2.7"/>
<text x="88.3" y="583.1" text-anchor="end">0.6</text>
<line x1="98.8" y1="617.4" x2="108.4" y2="617.4" stroke="#000" stroke-width="2.7"/>
<text x="88.3" y="625.1" text-anchor="end">0.4</text>
<line x1="98.8" y1="659.2" x2="108.4" y2="659.2" stroke="#000" stroke-width="2.7"/>
<text x="88.3" y="666.9" text-anchor="end">0.2</text>
<line x1="98.8" y1="701.3" x2="108.4" y2="701.3" stroke="#000" stroke-width="2.7"/>
<text x="88.3" y="709" text-anchor="end">0</text>
<line x1="98.8" y1="743.2" x2="108.4" y2="743.2" stroke="#000" stroke-width="2.7"/>
<text x="88.3" y="750.9" text-anchor="end">–0.2</text>
<line x1="98.8" y1="785" x2="108.4" y2="785" stroke="#000" stroke-width="2.7"/>
<text x="88.3" y="792.7" text-anchor="end">–0.4</text>
<line x1="98.8" y1="826.7" x2="108.4" y2="826.7" stroke="#000" stroke-width="2.7"/>
<text x="88.3" y="834.4" text-anchor="end">–0.6</text>
<path d="M114.3 568 V560.5 H272 V568" fill="none" stroke="#000" stroke-width="2.7"/>
<text x="179.3" y="558.62" font-size="20.5" letter-spacing="1.73">***</text>
<text x="106.7" y="902.1">–100 bp</text>
<text x="274.5" y="902.1" text-anchor="middle">0 bp</text>
<text x="447.5" y="902.1" text-anchor="middle">+100 bp</text>
<text x="568.5" y="902.1" text-anchor="middle">+200 bp</text>
<rect x="108.4" y="928.6" width="510.1" height="6.4" fill="#fff" stroke="#000" stroke-width="1.3"/>
<rect x="278.1" y="912.9" width="170" height="37.2" fill="#fff" stroke="#000" stroke-width="2.7"/>
<text x="363.3" y="940.4" text-anchor="middle">miRNA</text>
<text text-anchor="middle" transform="translate(21.8 700.8) rotate(-90)">MeCP2</text>
<text x="0" y="543" font-weight="bold" font-size="40">c</text>
<clipPath id="clip_e"><rect x="107" y="1042" width="512.2" height="336.5"/></clipPath>
<rect x="107.9" y="1042" width="510.4" height="336.5" fill="none" stroke="#000" stroke-width="2.7"/>
<g clip-path="url(#clip_e)">
<path d="M108.83 1285.75L110.02 1285.51L111.2 1285L112.39 1285.51L113.58 1284.9L114.94 1284.79L116.3 1284.47L117.66 1284.62L119.01 1284.11L120.15 1284.53L121.28 1285.24L122.41 1285.8L123.6 1285.48L124.79 1285.79L125.97 1285.63L127.16 1286.13L128.52 1286.18L129.88 1287.69L131.24 1287.98L132.26 1288.6L133.27 1288.85L134.63 1288.99L135.99 1288.21L137.12 1289.24L138.25 1289.88L139.39 1291.05L140.74 1289.9L142.1 1288.23L143.46 1286.36L144.59 1285.06L145.72 1285.17L146.86 1284.43L148.21 1284.48L149.57 1284.12L150.76 1284.84L151.95 1285.88L153.14 1287.06L154.33 1287.58L155.68 1288.26L157.04 1288.38L158.4 1289.16L159.76 1287.28L161.12 1288.4L162.47 1289.4L163.83 1288.75L165.19 1289.12L166.55 1288.4L167.91 1288.72L169.27 1289.42L170.62 1290.01L171.98 1291.26L173.34 1291.79L174.7 1292.74L176.06 1292.56L177.19 1292.08L178.32 1292.18L179.45 1291.46L180.58 1290.57L181.72 1290.32L182.85 1290.26L184.21 1290.26L185.56 1290.72L186.92 1290.8L188.28 1292.13L189.64 1292.37L191 1293.91L192.35 1295.34L193.71 1296.72L195.07 1298.2L196.43 1298.2L197.79 1298.8L198.92 1298.87L200.05 1298.64L201.18 1298.28L202.54 1299.89L203.9 1300.77L205.26 1302.14L206.39 1301.53L207.52 1301.52L208.65 1300.44L210.01 1300.69L211.37 1300.4L212.73 1300.06L214.08 1299.25L215.44 1298.91L216.8 1299.18L218.16 1298.15L219.52 1298.87L220.88 1299.74L222.23 1300.72L223.42 1300.88L224.61 1300.61L225.8 1300.78L226.99 1301.36L228.35 1302.46L229.7 1304.17L231.06 1305.69L232.25 1305.1L233.44 1305.45L234.63 1305.36L235.81 1305.69L237.17 1305.99L238.53 1305.71L239.89 1305.74L241.25 1306.44L242.61 1305.83L243.96 1306.18L245.32 1306.34L246.68 1306.26L248.04 1306.75L249.4 1306.68L250.75 1306.52L252.11 1306.73L253.47 1307.05L254.83 1306.83L256.19 1306.71L257.38 1306.9L258.56 1306.54L259.75 1306.77L260.94 1306.28L262.13 1306.97L263.32 1308.35L264.51 1308.63L265.69 1309.34L267.05 1310.06L268.41 1310.7L269.77 1311.19L271.13 1311.8L272.48 1311.93L273.84 1312.65L275.2 1313.17L276.56 1313.88L277.92 1313.61L279.28 1313.34L280.63 1312.55L281.99 1311.79L283.35 1311.05L284.71 1310.21L286.07 1310.54L287.42 1310.22L288.78 1309.71L290.14 1309.95L291.5 1310L292.86 1310.6L294.22 1310.59L295.57 1310.24L296.93 1309.88L298.29 1309.98L299.65 1310.31L301.01 1309.94L302.36 1309.98L303.72 1310.32L305.08 1309.64L306.44 1310.2L307.8 1309.93L309.15 1310.19L310.51 1310.09L311.87 1310.31L313.23 1310.86L314.59 1310.79L315.95 1310.68L317.3 1309.81L318.66 1309.78L320.02 1309.97L321.38 1309.13L322.74 1310.16L324.09 1310.98L325.45 1312.5L326.81 1312.42L328.17 1312.98L329.53 1313.05L330.89 1313.54L332.24 1313.96L333.6 1314.27L334.96 1313.97L336.32 1314.04L337.68 1313.88L339.03 1313.66L340.39 1313.43L341.75 1313.21L343.11 1313.24L344.47 1312.79L345.82 1313.45L347.18 1313L348.54 1313.62L349.9 1313.11L351.26 1313.61L352.62 1313.5L353.97 1313.45L355.33 1313.11L356.69 1313.07L358.05 1313.15L359.41 1313.3L360.76 1314.3L362.12 1315.02L363.48 1315.87L364.73 1315.4L365.98 1315.67L367.23 1315.4L368.48 1316L369.73 1316.23L370.97 1315.85L372.22 1316.3L373.58 1317.32L374.94 1317.94L376.07 1319.09L377.2 1319.5L378.34 1320.5L379.69 1320.59L381.05 1319.71L382.41 1319.76L383.6 1320.01L384.79 1320.73L385.97 1322.12L387.16 1322.08L388.35 1322.82L389.54 1324.15L390.73 1324.3L391.92 1324.9L393.27 1324.93L394.63 1325.41L395.99 1325.17L397.18 1325.89L398.37 1326.46L399.56 1327.48L400.74 1327.57L401.93 1328.5L403.12 1328.79L404.31 1330L405.5 1330.57L406.63 1330.06L407.76 1329.59L408.89 1328.85L410.25 1330.05L411.61 1330.69L412.97 1331.17L414.33 1332.53L415.68 1332.63L417.04 1331.93L418.4 1332.08L419.59 1332.13L420.78 1331.68L421.97 1331.06L423.15 1330.25L424.38 1330.24L425.6 1330.07L426.82 1330.56L428.04 1329.79L429.27 1329.78L430.62 1329.78L431.98 1329.48L433.34 1329.13L434.7 1328.93L436.06 1330.15L437.41 1331.23L438.77 1331.6L440.13 1331.7L441.49 1332.61L442.85 1332.78L444.21 1332.49L445.56 1332.59L446.92 1332.9L448.28 1332.74L449.64 1332.55L451 1332.87L452.35 1333.12L453.71 1333.54L455.07 1333.42L456.43 1334.36L457.79 1335.04L459.14 1335.02L460.5 1335.65L461.86 1336.3L463.22 1337.02L464.58 1337.47L465.94 1336.92L467.29 1336.64L468.65 1335.6L470.01 1335.78L471.37 1335.16L472.73 1334.4L474.08 1335.21L475.44 1336.79L476.8 1335.83L478.16 1335.69L479.52 1335.08L480.88 1335.65L482.23 1335.66L483.59 1335.79L484.95 1336.66L486.31 1336.1L487.67 1336.25L489.02 1335.7L490.38 1336.05L491.74 1336.48L493.1 1336.72L494.46 1336.57L495.81 1336.64L497.17 1336.95L498.53 1336.61L499.89 1336.5L501.25 1335.93L502.61 1335.57L503.96 1335.31L505.32 1334.56L506.68 1335L508.04 1335.31L509.4 1335.62L510.75 1335.65L512.11 1336.34L513.47 1336.27L514.83 1336.64L516.19 1337.08L517.55 1337.35L518.9 1337.12L520.26 1337.3L521.62 1336.66L522.98 1337.57L524.34 1338.48L525.69 1339.18L527.05 1339.95L528.41 1339.61L529.77 1339.78L531.13 1340L532.48 1339.48L533.84 1338.71L535.2 1338.45L536.56 1338.16L537.92 1337.83L539.28 1337L540.63 1336.92L541.99 1336.62L543.35 1335.92L544.71 1335.59L546.07 1335.51L547.42 1335.74L548.78 1336.21L550.14 1336.04L551.5 1336.25L552.86 1336.79L554.22 1337.03L555.57 1337.31L556.93 1337.99L558.29 1338.8L559.65 1338.34L561.01 1337.91L562.36 1338.29L563.72 1338.41L565.08 1339.28L566.44 1339.29L567.8 1339.73L569.15 1339.79L570.51 1340.24L571.87 1340.32L573.23 1339.69L574.59 1339.87L575.95 1339.42L577.3 1339.96L578.66 1339.44L580.02 1340.29L581.38 1339.87L582.74 1340.33L584.09 1340.53L585.45 1341.03L586.81 1340.97L588.17 1341.35L589.53 1341.01L590.89 1340.96L592.24 1341.17L593.6 1341.49L594.96 1342.49L596.32 1342.91L597.68 1343.41L599.03 1343.54L600.39 1343.1L601.75 1343.16L603.11 1343.77L604.47 1343.32L605.82 1343.77L607.18 1344.14L608.54 1344.36L609.9 1344.49L611.26 1344.93L612.48 1345.23L613.7 1344.94L614.92 1345.22L616.15 1345.24L617.37 1345.6" fill="none" stroke="#9a1aa6" stroke-width="2.8" stroke-linejoin="round" stroke-linecap="butt"/>
<path d="M108.83 1345.51L110.02 1345.29L111.2 1345.29L112.39 1344.78L113.58 1344.49L114.94 1344.66L116.3 1344.32L117.66 1343.85L119.01 1343.22L120.37 1342.94L121.73 1343.19L123.09 1343.88L124.45 1344.13L125.8 1343.58L127.16 1344.52L128.52 1344.42L129.88 1344.23L131.24 1343.68L132.6 1344.22L133.95 1344L135.31 1343.33L136.67 1343.14L138.03 1343.31L139.39 1343.37L140.74 1342.8L142.1 1343.69L143.46 1343.56L144.82 1343.54L146.18 1343.63L147.54 1343.41L148.89 1344.22L150.25 1344.49L151.61 1344.16L152.97 1345.09L154.33 1344.98L155.68 1345.06L157.04 1344.15L158.4 1343.64L159.76 1343.22L161.12 1343.26L162.47 1342.97L163.83 1342.98L165.19 1343.18L166.55 1343.08L167.91 1342.92L169.27 1342.4L170.62 1342.15L171.98 1342.09L173.34 1342.67L174.7 1341.97L176.06 1342.38L177.41 1342.21L178.77 1342.2L180.13 1342.21L181.49 1341.36L182.85 1341.47L184.21 1341.04L185.56 1340.92L186.92 1340.94L188.28 1340.78L189.64 1340.69L191 1341.38L192.35 1341.01L193.71 1340.48L195.07 1340.87L196.43 1340.22L197.79 1340.86L199.14 1341.03L200.5 1341.45L201.86 1341.36L203.22 1342.05L204.58 1342.09L205.94 1342.1L207.29 1342.07L208.65 1342.18L210.01 1342.08L211.37 1342.4L212.73 1342.64L214.08 1342.59L215.44 1342.31L216.8 1341.94L218.16 1341.63L219.52 1341.88L220.88 1341.58L222.23 1341.84L223.59 1342.03L224.95 1342.49L226.31 1342.59L227.67 1342.59L229.02 1342.8L230.38 1342.86L231.74 1342.96L233.1 1343.58L234.46 1343.54L235.81 1343.57L237.17 1343.26L238.53 1343.12L239.89 1342.63L241.25 1342.77L242.61 1343.02L243.96 1342.98L245.32 1343.27L246.68 1343.84L248.04 1343.93L249.4 1343.39L250.75 1344.12L252.11 1343.99L253.47 1344L254.83 1344L256.19 1343.43L257.55 1343.3L258.9 1343.66L260.26 1343.75L261.62 1343.41L262.98 1343.61L264.34 1344.66L265.69 1344.9L267.05 1344.59L268.41 1345.31L269.77 1345.1L271.13 1345.79L272.48 1345.2L273.84 1345.8L275.2 1345.58L276.56 1346.03L277.92 1345.63L279.28 1346.26L280.63 1345.91L281.99 1346.3L283.35 1346.1L284.71 1346.48L286.07 1346.4L287.42 1346.66L288.78 1346.9L290.14 1347.17L291.5 1347.27L292.86 1347.29L294.22 1347.74L295.57 1347.54L296.93 1347.48L298.29 1348.11L299.65 1348L301.01 1348.66L302.36 1348.37L303.72 1348.22L305.08 1348.57L306.44 1349.15L307.8 1348.82L309.15 1349.17L310.51 1348.86L311.87 1349.13L313.23 1348.75L314.59 1348.93L315.95 1348.84L317.3 1349.09L318.66 1349.03L320.02 1349.22L321.38 1349.3L322.74 1348.96L324.09 1348.98L325.45 1348.74L326.81 1348.78L328.17 1348.96L329.53 1349.36L330.89 1348.72L332.24 1348.86L333.6 1348.49L334.96 1349.11L336.32 1349.11L337.68 1349.17L339.03 1349.35L340.39 1349.39L341.75 1349.64L343.11 1349.59L344.47 1350.17L345.82 1350.51L347.18 1350.65L348.54 1350.35L349.9 1350.21L351.26 1351.01L352.62 1350.91L353.97 1351.05L355.33 1351.21L356.69 1351.41L358.05 1351.23L359.41 1351.23L360.76 1351.04L362 1350.83L363.23 1350.8L364.46 1350.65L365.69 1351.18L366.92 1350.73L368.15 1350.14L369.51 1350.52L370.87 1350.73L372.22 1351.22L373.58 1351L374.94 1351.25L376.3 1351.15L377.66 1351.2L379.01 1351L380.37 1351.59L381.73 1351.34L383.09 1351.54L384.45 1351.41L385.8 1351L387.16 1351.15L388.52 1351.15L389.88 1351.48L391.24 1351.07L392.6 1351.54L393.95 1351.34L395.31 1351.2L396.67 1351.02L398.03 1351.1L399.39 1350.97L400.74 1350.95L402.1 1351.75L403.46 1351.59L404.82 1352.17L406.18 1352.15L407.54 1352.19L408.89 1352.24L410.25 1352.46L411.61 1352.08L412.97 1352.18L414.33 1352.15L415.68 1352.57L417.04 1352.68L418.4 1351.96L419.76 1351.9L421.12 1352.12L422.47 1352.35L423.83 1352.09L425.19 1352.31L426.55 1352.44L427.91 1352.13L429.27 1352.08L430.62 1351.59L431.98 1351.93L433.34 1351.93L434.7 1351.53L436.06 1351.36L437.41 1351.87L438.77 1352.1L440.13 1351.78L441.49 1351.37L442.85 1351.8L444.21 1351.19L445.56 1351.08L446.92 1351.34L448.28 1351.19L449.64 1351.17L451 1350.99L452.35 1350.12L453.71 1350.24L455.07 1350.47L456.43 1350.1L457.79 1350.56L459.14 1350.39L460.5 1350.34L461.86 1350.43L463.22 1350.16L464.58 1350.42L465.94 1350.05L467.29 1349.82L468.65 1350.18L470.01 1350.59L471.37 1350.36L472.73 1349.89L474.08 1349.47L475.44 1349.28L476.8 1349.04L478.16 1349.31L479.52 1348.76L480.88 1348.89L482.23 1349.39L483.59 1348.9L484.95 1349.21L486.31 1349L487.67 1349.08L489.02 1349.02L490.38 1348.95L491.74 1348.58L493.1 1348.93L494.46 1348.77L495.81 1348.31L497.17 1349.07L498.53 1349.12L499.89 1348.56L501.25 1348.65L502.61 1349.06L503.96 1348.87L505.32 1348.96L506.68 1349.28L508.04 1349.43L509.4 1349.17L510.75 1349.51L512.11 1349.94L513.47 1350.16L514.83 1350.3L516.19 1350.17L517.55 1349.99L518.9 1349.39L520.26 1349.61L521.62 1349.83L522.98 1349.37L524.34 1349.16L525.69 1349.55L527.05 1349.63L528.41 1349.77L529.77 1349.48L531.13 1349.19L532.48 1348.78L533.84 1349.62L535.2 1350.09L536.56 1350.07L537.92 1350.4L539.28 1350.3L540.63 1350.79L541.99 1351.02L543.35 1351.2L544.71 1350.79L546.07 1351.22L547.42 1351.01L548.78 1350.99L550.14 1350.69L551.5 1351.2L552.86 1350.83L554.22 1351.16L555.57 1351.65L556.93 1351.73L558.29 1351.9L559.65 1351.36L561.01 1352.06L562.36 1351.79L563.72 1351.63L565.08 1352.34L566.44 1352.48L567.8 1352.6L569.15 1352.18L570.51 1352L571.87 1352.52L573.23 1352.27L574.59 1352.38L575.95 1352.15L577.3 1352.3L578.66 1352.05L580.02 1352.09L581.38 1352.14L582.74 1351.7L584.09 1352.07L585.45 1351.62L586.81 1352.04L588.17 1351.66L589.53 1351.7L590.89 1351.14L592.24 1351.38L593.6 1351.29L594.96 1351.04L596.32 1351.26L597.68 1351.18L599.03 1351.02L600.39 1351.14L601.75 1351.65L603.11 1351.11L604.47 1351.52L605.82 1351.76L607.18 1350.94L608.46 1351.47L609.73 1350.94L611 1350.93L612.28 1350.98L613.55 1351.44L614.82 1351.36L616.1 1350.65L617.37 1351.18" fill="none" stroke="#45b70f" stroke-width="2.8" stroke-linejoin="round" stroke-linecap="butt"/>
<path d="M108.83 1347.27L110.07 1347.08L111.32 1347.47L112.56 1348.17L113.81 1348.23L115.05 1347.74L116.3 1348.28L117.66 1348.25L119.01 1348.57L120.37 1348.82L121.73 1348.66L123.09 1349.07L124.45 1349.14L125.8 1348.62L127.16 1348.73L128.52 1349.04L129.88 1349.49L131.24 1349.84L132.6 1350.17L133.95 1350.26L135.31 1350.39L136.67 1350.57L138.03 1350.84L139.39 1350.86L140.74 1351.3L142.1 1351.68L143.46 1351.92L144.82 1351.62L146.18 1351.41L147.54 1350.72L148.89 1350.75L150.25 1350.68L151.61 1350.37L152.97 1350.28L154.33 1350.43L155.68 1350.81L157.04 1350.34L158.4 1350.9L159.76 1350.01L161.12 1350.25L162.47 1350.39L163.83 1350.31L165.19 1349.58L166.55 1349.78L167.91 1349.85L169.27 1350.37L170.62 1350.08L171.98 1350.45L173.34 1350.51L174.7 1350.53L176.06 1350.92L177.41 1351.13L178.77 1351.41L180.13 1351.29L181.49 1351.12L182.85 1351.41L184.21 1351.78L185.56 1350.69L186.92 1350.62L188.28 1349.69L189.64 1349.89L191 1349.33L192.35 1349.61L193.71 1349.24L195.07 1349.62L196.43 1349.73L197.79 1349.73L199.14 1349.52L200.5 1349.51L201.86 1348.92L203.22 1349.76L204.58 1349.29L205.94 1350.14L207.29 1350.41L208.65 1350.23L210.01 1350.19L211.37 1350.35L212.73 1349.86L214.08 1350.57L215.44 1349.78L216.8 1349.77L218.16 1349.66L219.52 1349.88L220.88 1349.49L222.23 1349.49L223.59 1349.58L224.95 1349.8L226.31 1349.87L227.67 1349.87L229.02 1349.75L230.38 1349.91L231.74 1350.3L233.1 1350.67L234.46 1351.55L235.81 1351.11L237.17 1351.78L238.53 1351.26L239.89 1351.94L241.25 1351.68L242.61 1352.09L243.96 1352.27L245.32 1352.27L246.68 1351.86L248.04 1351.9L249.4 1352.13L250.75 1352.5L252.11 1352.07L253.47 1351.83L254.83 1351.93L256.19 1352.16L257.55 1351.46L258.9 1351.19L260.26 1351.67L261.62 1351.07L262.98 1350.89L264.34 1350.86L265.69 1350.89L267.05 1351.49L268.41 1351.52L269.77 1351.14L271.13 1351.65L272.48 1351.92L273.84 1351.6L275.2 1352.19L276.56 1351.55L277.92 1352.13L279.28 1352.1L280.63 1351.55L281.99 1351.52L283.35 1351.47L284.71 1351.31L286.07 1351.88L287.42 1351.79L288.78 1351.86L290.14 1351.74L291.5 1351.42L292.86 1351.27L294.22 1351.42L295.57 1351.82L296.93 1351.14L298.29 1351.53L299.65 1351.31L301.01 1351.25L302.36 1351.25L303.72 1351.43L305.08 1350.91L306.44 1350.75L307.8 1351.18L309.15 1350.94L310.51 1350.45L311.87 1350.21L313.23 1350.33L314.59 1350.78L315.95 1350.81L317.3 1350.68L318.66 1351L320.02 1350.92L321.38 1351.37L322.74 1351.36L324.09 1351L325.45 1351.58L326.81 1351.8L328.17 1351.52L329.53 1351.29L330.89 1351.45L332.24 1351.5L333.6 1352.18L334.96 1352.22L336.32 1351.99L337.68 1352.13L339.03 1351.9L340.39 1352.09L341.75 1352.45L343.11 1352.19L344.47 1352.26L345.82 1351.6L347.18 1352.38L348.54 1352.44L349.9 1352.42L351.26 1351.92L352.62 1352.61L353.97 1352.8L355.33 1352.69L356.69 1352.6L358.05 1352.55L359.41 1353.1L360.76 1352.96L362.12 1352.83L363.33 1352.49L364.53 1352.3L365.74 1352.74L366.94 1352.26L368.15 1351.99L369.51 1352.09L370.87 1352.17L372.22 1352.44L373.58 1352.07L374.94 1351.73L376.3 1352.27L377.66 1352.09L379.01 1351.93L380.37 1352.36L381.73 1352.08L383.09 1352.2L384.45 1352.06L385.8 1352.73L387.16 1352.81L388.52 1353.24L389.88 1352.61L391.24 1353.11L392.6 1353.29L393.95 1353.43L395.31 1353.27L396.67 1353.97L398.03 1353.37L399.39 1353.93L400.74 1353.7L402.1 1353.85L403.46 1354.25L404.82 1353.76L406.18 1354.07L407.54 1353.94L408.89 1354.29L410.25 1354.31L411.61 1354.48L412.97 1354.06L414.33 1354.58L415.68 1354.68L417.04 1354.24L418.4 1355.07L419.76 1355.04L421.12 1355.06L422.47 1355.12L423.83 1354.95L425.19 1355.36L426.55 1354.64L427.91 1355.05L429.27 1355.16L430.62 1354.31L431.98 1354.72L433.34 1354.9L434.7 1354.12L436.06 1354.39L437.41 1354.64L438.77 1354.07L440.13 1353.99L441.49 1354.38L442.85 1354.41L444.21 1354.5L445.56 1354.23L446.92 1353.69L448.28 1354.56L449.64 1354.34L451 1354.8L452.35 1355.16L453.71 1355.6L455.07 1355.47L456.43 1355.12L457.79 1355.43L459.14 1355.47L460.5 1355.63L461.86 1355.16L463.22 1355.47L464.58 1355.04L465.94 1355.83L467.29 1355.02L468.65 1355.46L470.01 1355.15L471.37 1355.23L472.73 1355.34L474.08 1355.22L475.44 1355.22L476.8 1355.26L478.16 1355.42L479.52 1355.81L480.88 1354.74L482.23 1354.26L483.59 1353.71L484.95 1354.01L486.31 1353.72L487.67 1353.6L489.02 1352.85L490.38 1352.93L491.74 1353.12L493.1 1353L494.46 1353.17L495.81 1352.72L497.17 1353.26L498.53 1352.95L499.89 1352.91L501.25 1352.83L502.61 1352.66L503.96 1352.22L505.32 1352.26L506.68 1352.45L508.04 1352.03L509.4 1352.38L510.75 1351.97L512.11 1352.32L513.47 1352.02L514.83 1352.16L516.19 1351.76L517.55 1351.58L518.9 1351.98L520.26 1352.07L521.62 1351.51L522.98 1351.32L524.34 1351.97L525.69 1351.83L527.05 1351.84L528.41 1351.86L529.77 1351.55L531.13 1352L532.48 1351.88L533.84 1351.83L535.2 1351.76L536.56 1351.51L537.92 1351L539.28 1350.34L540.63 1350.56L541.99 1350.26L543.35 1349.58L544.71 1349.56L546.07 1349.72L547.42 1349.28L548.78 1349.26L550.14 1349.17L551.5 1348.75L552.86 1349.25L554.22 1348.74L555.57 1349.49L556.93 1349.18L558.29 1349.93L559.65 1349.34L561.01 1350.1L562.36 1349.75L563.72 1350.57L565.08 1350.8L566.44 1350.82L567.8 1351.13L569.15 1351.11L570.51 1351.51L571.87 1351.6L573.23 1351.8L574.59 1351.59L575.95 1352L577.3 1351.89L578.66 1351.77L580.02 1351.76L581.38 1352.27L582.74 1352.27L584.09 1352.29L585.45 1351.78L586.81 1351.54L588.17 1351.61L589.53 1352.19L590.89 1351.69L592.24 1351.44L593.6 1352.04L594.96 1351.35L596.32 1351.55L597.68 1351.35L599.03 1351.04L600.39 1351.17L601.75 1351.45L603.11 1351.18L604.47 1351.38L605.82 1350.6L607.18 1350.61L608.46 1350.93L609.73 1351.16L611 1351.02L612.28 1350.96L613.55 1351.46L614.82 1351.54L616.1 1351.42L617.37 1351.04" fill="none" stroke="#4551a8" stroke-width="2.8" stroke-linejoin="round" stroke-linecap="butt"/>
<path d="M108.83 1087.72L110.19 1086.97L111.54 1085.91L112.9 1085.07L114.26 1084.12L115.62 1083.02L116.98 1083.55L118.34 1084.61L119.69 1084.34L121.05 1084.03L122.41 1085.18L123.77 1086.8L125.13 1087.6L126.48 1088.82L127.67 1088.82L128.86 1087.98L130.05 1087.92L131.24 1087.76L132.6 1088.24L133.95 1088.94L135.31 1089.38L136.67 1090.01L138.03 1090.79L139.39 1091.07L140.74 1091.69L142.1 1091.68L143.46 1091.91L144.82 1091.75L146.18 1091.57L147.54 1093.72L148.89 1094.96L150.25 1096.83L151.61 1098.72L152.97 1099.88L154.33 1101.08L155.68 1102.99L157.04 1104.42L158.4 1105.01L159.76 1105.42L161.12 1105.32L162.47 1104.53L163.83 1105.39L165.19 1106.07L166.55 1106.91L167.91 1106.33L169.27 1105.01L170.62 1103.86L171.98 1104.58L173.34 1105.72L174.7 1106.47L176.06 1106.58L177.41 1107.22L178.77 1107.9L180.13 1105.62L181.49 1106.06L182.85 1105.8L184.21 1105.05L185.56 1104.56L186.92 1104.3L188.28 1102.95L189.64 1101.68L191 1102.59L192.35 1103.64L193.71 1105.13L195.07 1107.26L196.43 1108.4L197.79 1109.76L199.14 1111.4L200.5 1112.78L201.86 1112.93L203.22 1111.97L204.58 1111.49L205.94 1111.58L207.29 1112.19L208.43 1111.06L209.56 1110.73L210.69 1109.76L211.82 1110.31L212.95 1110.86L214.08 1111.68L215.44 1111.82L216.8 1112.73L218.16 1113.85L219.52 1114.45L220.65 1113.69L221.78 1113.38L222.91 1112.82L224.04 1114.42L225.18 1116.94L226.31 1118.01L227.67 1119.55L229.02 1120.05L230.04 1121.84L231.06 1123.48L232.42 1120.6L233.78 1118.1L235.14 1117.3L236.49 1116.5L237.63 1117.17L238.76 1117.93L239.89 1117.77L241.25 1118.95L242.61 1119.91L243.96 1121.01L245.32 1122.34L246.68 1123.78L248.04 1125.61L249.4 1126.38L250.75 1126.27L252.11 1126.39L253.47 1128.97L254.83 1132.04L255.96 1132.7L257.09 1134.22L258.22 1135.26L259.41 1135.57L260.6 1136.62L261.79 1137.16L262.98 1137.56L264.34 1138.52L265.69 1138.9L267.05 1139.41L268.41 1140.89L269.77 1141.78L271.13 1142.63L272.48 1145.95L273.84 1149.15L275.2 1149.4L276.56 1150.22L277.92 1151.88L279.28 1152.72L280.63 1154.23L281.99 1154.94L283.35 1155.51L284.71 1157.04L286.07 1158.59L287.42 1160.02L288.56 1160.08L289.69 1160.43L290.82 1161.29L292.18 1163.61L293.54 1165.63L294.89 1168.14L296.25 1170.36L297.44 1170.83L298.63 1170.8L299.82 1170.92L301.01 1171.32L302.36 1171.08L303.72 1171.17L305.08 1171.1L306.44 1171.77L307.8 1172.97L308.82 1174.32L309.83 1175.39L311.19 1175.48L312.55 1174.67L313.91 1173.83L315.27 1174.93L316.62 1175.33L317.98 1176.22L319.11 1176.89L320.25 1176.62L321.38 1177.09L322.74 1176.29L324.09 1175.86L325.45 1176.22L326.81 1176.67L328.17 1177.55L329.53 1177.84L330.89 1178.98L332.24 1179.56L333.6 1180.79L334.73 1182.27L335.87 1183.02L337 1184.97L338.36 1184.25L339.71 1184.25L341.07 1183.84L342.2 1185.39L343.34 1186.1L344.47 1187.2L345.82 1188.59L347.18 1189.39L348.54 1190.38L349.9 1191.28L351.26 1192.82L352.62 1194.61L353.97 1196.2L355.33 1198.37L356.69 1198.67L358.05 1198.78L359.41 1199.06L360.76 1200.21L362.12 1201.37L363.48 1202.1L364.82 1203.31L366.15 1204.96L367.49 1206.16L368.83 1206.73L370.05 1206.52L371.27 1206.48L372.49 1206.89L373.72 1206.39L374.94 1206.7L376.3 1207.48L377.66 1208.35L379.01 1210.09L380.37 1210.73L381.73 1211.9L383.09 1212.83L384.45 1213.29L385.8 1214.03L387.16 1214.61L388.52 1215.21L389.88 1216.25L391.24 1217.46L392.6 1218.08L393.95 1218.58L395.31 1218.95L396.67 1219.86L398.03 1220.96L399.39 1221.18L400.74 1222.66L402.1 1222.78L403.46 1224.14L404.68 1224.5L405.91 1226.15L407.13 1226.65L408.35 1227.8L409.57 1228.32L410.79 1228.98L412.02 1229.4L413.24 1228.95L414.46 1229.53L415.68 1229.09L417.04 1229.27L418.4 1230.07L419.76 1230.01L421.12 1230.65L422.47 1230.35L423.83 1230.64L425.19 1231.03L426.55 1231.44L427.91 1231.79L429.27 1232.29L430.62 1232.86L431.76 1234.3L432.89 1235.27L434.02 1236.89L435.15 1236.32L436.28 1236.6L437.41 1236.29L438.77 1237.1L440.13 1238.13L441.49 1239.64L442.62 1240.66L443.75 1241.11L444.88 1242.35L446.02 1242.62L447.15 1243.62L448.28 1244.59L449.64 1244.29L451 1244.75L452.35 1245.34L453.71 1244.67L455.07 1244.97L456.43 1244.24L457.56 1244.86L458.69 1245.74L459.82 1246.26L461.18 1243.95L462.54 1242.21L463.9 1242.35L465.26 1242.44L466.39 1244L467.52 1245.88L468.65 1247.1L470.01 1246.79L471.37 1246.02L472.5 1246.1L473.63 1246L474.76 1245.71L476.12 1245L477.48 1243.92L478.84 1244.46L480.2 1245.17L481.55 1246.31L482.78 1247.05L484 1247.76L485.22 1248.11L486.44 1248.59L487.67 1249.37L489.02 1248.77L490.38 1248.79L491.74 1249.84L493.1 1250.91L494.46 1251.81L495.59 1251.33L496.72 1251.09L497.85 1250.77L498.98 1250.17L500.12 1249.91L501.25 1249.17L502.44 1250.21L503.62 1250.87L504.81 1251.67L506 1252.74L507.36 1254.15L508.72 1256.2L510.08 1257.43L511.26 1257.42L512.45 1256.61L513.64 1255.55L514.83 1255.35L516.19 1256.01L517.55 1256.84L518.9 1257.87L520.09 1258.46L521.28 1259.23L522.47 1258.98L523.66 1259.57L524.85 1258.33L526.03 1256.95L527.22 1256.24L528.41 1254.75L529.77 1254.33L531.13 1254.81L532.48 1254.53L533.84 1253.72L535.2 1254.61L536.56 1255.04L537.92 1255.87L539.28 1256.12L540.41 1256.63L541.54 1256.26L542.67 1257.16L544.03 1255.04L545.05 1255.99L546.07 1257.5L547.2 1257.66L548.33 1257.52L549.46 1257.56L550.82 1255.85L552.18 1253.5L553.31 1253.73L554.44 1253L555.57 1253.43L556.8 1252.76L558.02 1251.55L559.17 1253.29L560.33 1255.29L561.69 1256.71L563.04 1258.58L564.18 1258.3L565.31 1257.86L566.44 1257.32L567.8 1256.41L569.15 1255.81L570.51 1254.76L571.87 1254.63L573.23 1255.58L574.59 1256.19L575.95 1255.86L577.3 1256.05L578.66 1255.64L580.02 1255.44L581.38 1256.1L582.74 1256.98L584.09 1257.77L585.45 1257.78L586.81 1256.8L588.17 1256.67L589.53 1256.88L590.89 1255.8L592.24 1254.58L593.6 1253.89L594.96 1252.33L596.32 1251.28L597.68 1250.05L599.03 1250.05L600.39 1248.77L601.75 1248.29L602.88 1247.71L604.01 1247.48L605.15 1246.41L606.16 1245L607.18 1243.78L608.54 1244.79L609.9 1245.29L610.92 1245.33L611.94 1245.78L612.96 1247.12L613.97 1248.86L615.11 1248.67L616.24 1247.91L617.37 1248.41" fill="none" stroke="#e95d04" stroke-width="2.8" stroke-linejoin="round" stroke-linecap="butt"/>
<path d="M108.83 1301.64L110.09 1301.37L111.35 1301.67L112.61 1301.75L113.87 1301.48L115.13 1301.6L116.39 1302.19L117.66 1302.21L119.01 1302.64L120.37 1303.15L121.73 1303.43L123.09 1303.29L124.45 1303.94L125.8 1304.19L127.16 1304.07L128.52 1304.76L129.88 1305.13L131.24 1305.11L132.6 1305.23L133.95 1304.76L135.31 1305.19L136.67 1304.71L138.03 1304.64L139.39 1304.82L140.74 1304.94L142.1 1304.9L143.46 1305.29L144.82 1305.3L146.18 1305.19L147.54 1305.6L148.89 1305.31L150.25 1305.4L151.61 1306.01L152.97 1305.56L154.33 1304.41L155.68 1304.02L157.04 1302.89L158.4 1301.56L159.76 1300.95L161.12 1299.82L162.47 1298.61L163.83 1298.07L165.19 1297.81L166.55 1296.85L167.91 1295.87L169.27 1296.07L170.62 1295.86L171.98 1296.32L173.34 1295.79L174.7 1295.67L176.06 1295.89L177.41 1295.98L178.77 1295.49L180.13 1296.09L181.49 1296.39L182.85 1296.18L184.21 1296.02L185.56 1296.38L186.92 1295.46L188.28 1295.63L189.64 1295.19L191 1295.3L192.35 1294.9L193.71 1295.03L195.07 1294.08L196.43 1294.14L197.79 1293.72L199.14 1293.52L200.5 1294.09L201.86 1293.87L203.22 1293.57L204.58 1293.67L205.94 1293.55L207.29 1293.17L208.65 1293.35L210.01 1293.33L211.37 1293.61L212.73 1294.46L214.08 1294.63L215.44 1294.45L216.8 1294.44L218.16 1295.46L219.52 1295.07L220.88 1295.52L222.23 1296.32L223.59 1296.38L224.95 1296.56L226.31 1297.12L227.67 1297.51L229.02 1297.49L230.38 1298.06L231.74 1297.61L233.1 1298.67L234.46 1299.49L235.81 1300.3L237.17 1300.67L238.53 1301.48L239.89 1302.55L241.25 1304.28L242.61 1305.51L243.96 1307.21L245.32 1307.84L246.68 1308.58L248.04 1310.1L249.4 1310.83L250.75 1311.18L252.11 1312.49L253.47 1312.7L254.83 1313.04L256.19 1313.07L257.55 1313.11L258.9 1313.68L260.26 1313.58L261.62 1312.93L262.98 1313.49L264.34 1313.33L265.69 1313.58L267.05 1314L268.41 1313.78L269.77 1313.94L271.13 1314.63L272.48 1314.85L273.84 1315.23L275.2 1315.49L276.56 1316.01L277.92 1316.18L279.28 1316.51L280.63 1316.47L281.99 1317.16L283.35 1317.8L284.71 1317.93L286.07 1318.49L287.42 1318.48L288.78 1319.05L290.14 1319.43L291.5 1319.92L292.86 1320.07L294.22 1320.16L295.57 1320.62L296.93 1320.03L298.29 1319.55L299.65 1319.99L301.01 1319.18L302.36 1319.27L303.72 1318.09L305.08 1318.29L306.44 1317.82L307.8 1317.52L309.15 1316.62L310.51 1316.69L311.87 1316.37L313.23 1315.87L314.59 1315.53L315.95 1315.81L317.3 1315.43L318.66 1315.79L320.02 1315L321.38 1314.9L322.74 1314.9L324.09 1314.24L325.45 1314.02L326.81 1313.74L328.17 1314.16L329.53 1314.06L330.89 1313.47L332.24 1313.56L333.6 1313.84L334.96 1313.3L336.32 1313.26L337.68 1313.33L339.03 1313.67L340.39 1313.07L341.75 1313.33L343.11 1312.69L344.47 1312.93L345.82 1312.81L347.18 1312.62L348.54 1312.16L349.9 1312.34L351.26 1312.09L352.62 1312.08L353.97 1312.02L355.33 1312.44L356.69 1311.77L358.05 1311.87L359.41 1312.06L360.76 1311.34L362.12 1311.79L363.48 1311.76L364.84 1311.38L366.2 1311.5L367.43 1311.18L368.66 1311.52L369.89 1311.77L371.12 1311.41L372.35 1311.45L373.58 1311.93L374.94 1311.91L376.3 1311.94L377.66 1312.04L379.01 1312.5L380.37 1312.9L381.73 1312.59L383.09 1312.64L384.45 1312.76L385.8 1312.45L387.16 1313.18L388.52 1313L389.88 1312.82L391.24 1312.77L392.6 1312.76L393.95 1312.79L395.31 1313.24L396.67 1313.31L398.03 1313.91L399.39 1314.43L400.74 1314.8L402.1 1314.93L403.46 1315.44L404.82 1315.75L406.18 1316.58L407.54 1317.22L408.89 1317.54L410.25 1318.15L411.61 1318.25L412.97 1318.66L414.33 1318.77L415.68 1319.39L417.04 1319.47L418.4 1319.81L419.76 1320.32L421.12 1320.67L422.47 1320.73L423.83 1320.66L425.19 1321.12L426.55 1321.42L427.91 1321.2L429.27 1321.31L430.62 1322.13L431.98 1321.88L433.34 1322.42L434.7 1322.71L436.06 1323.08L437.41 1323.27L438.77 1323.48L440.13 1324.3L441.49 1324.63L442.85 1325.2L444.21 1325.19L445.56 1325.84L446.92 1325.87L448.28 1326.6L449.64 1326.24L451 1326.68L452.35 1327.4L453.71 1327.51L455.07 1328.04L456.43 1328.72L457.79 1328.56L459.14 1328.89L460.5 1329.3L461.86 1330.26L463.22 1329.96L464.58 1328.79L465.94 1328.43L467.29 1327.79L468.65 1327.61L470.01 1327.65L471.37 1327.46L472.73 1326.97L474.08 1326.61L475.44 1326.7L476.8 1326.04L478.16 1325.65L479.52 1325.73L480.88 1325.81L482.23 1325.39L483.59 1325.75L484.95 1325.57L486.31 1325.45L487.67 1326.12L489.02 1326.41L490.38 1326.87L491.74 1327.37L493.1 1327.03L494.46 1328.25L495.81 1328.11L497.17 1328.02L498.53 1327.19L499.89 1327.67L501.25 1327.19L502.61 1327.67L503.96 1327.04L505.32 1326.75L506.68 1327.08L508.04 1327.06L509.4 1326.77L510.75 1326.5L512.11 1326.05L513.47 1326.44L514.83 1325.67L516.19 1325.88L517.55 1325.21L518.9 1325.23L520.26 1325.07L521.62 1324.52L522.98 1324.75L524.34 1324.14L525.69 1324.47L527.05 1323.88L528.41 1323.93L529.77 1323.27L531.13 1322.7L532.48 1322.05L533.84 1322.02L535.2 1321.09L536.56 1321.01L537.92 1320.52L539.28 1319.99L540.63 1319.52L541.99 1319.28L543.35 1319.21L544.71 1318.73L546.07 1317.91L547.42 1317.75L548.78 1317.72L550.14 1317.74L551.5 1317.61L552.86 1317.08L554.22 1317.09L555.57 1317.47L556.93 1316.87L558.29 1316.96L559.65 1316.37L561.01 1316.65L562.36 1316.24L563.72 1315.88L565.08 1315.7L566.44 1315.73L567.8 1315.8L569.15 1315.84L570.51 1314.73L571.87 1314.62L573.23 1313.96L574.59 1313.68L575.95 1312.74L577.3 1311.21L578.66 1310.32L580.02 1309.83L581.38 1308.84L582.74 1307.61L584.09 1307.1L585.45 1306.96L586.81 1306.78L588.17 1306.99L589.53 1307.1L590.89 1307.2L592.24 1307.39L593.6 1306.88L594.96 1307.48L596.32 1306.96L597.68 1307.2L599.03 1306.93L600.39 1306.92L601.75 1307.07L603.11 1307.06L604.47 1306.44L605.82 1306.4L607.18 1306.67L608.54 1306.65L609.9 1306.76L611.26 1307.17L612.62 1306.27L613.97 1305.85L615.33 1305.66L616.35 1305.57L617.37 1305.64" fill="none" stroke="#9a9797" stroke-width="2.8" stroke-linejoin="round" stroke-linecap="butt"/>
</g>
<line x1="276.8" y1="1042" x2="276.8" y2="1378.5" stroke="#000" stroke-width="3" stroke-dasharray="14.3 14.7" stroke-dashoffset="-3.6"/>
<line x1="447.3" y1="1042" x2="447.3" y2="1378.5" stroke="#000" stroke-width="3" stroke-dasharray="14.3 14.7" stroke-dashoffset="-3.6"/>
<line x1="98.3" y1="1090" x2="107.9" y2="1090" stroke="#000" stroke-width="2.7"/>
<text x="88.3" y="1097.7" text-anchor="end">0.25</text>
<line x1="98.3" y1="1138.2" x2="107.9" y2="1138.2" stroke="#000" stroke-width="2.7"/>
<text x="88.3" y="1145.9" text-anchor="end">0.2</text>
<line x1="98.3" y1="1186.9" x2="107.9" y2="1186.9" stroke="#000" stroke-width="2.7"/>
<text x="88.3" y="1194.6" text-anchor="end">0.15</text>
<line x1="98.3" y1="1234.5" x2="107.9" y2="1234.5" stroke="#000" stroke-width="2.7"/>
<text x="88.3" y="1242.2" text-anchor="end">0.1</text>
<line x1="98.3" y1="1282.4" x2="107.9" y2="1282.4" stroke="#000" stroke-width="2.7"/>
<text x="88.3" y="1290.1" text-anchor="end">0.05</text>
<line x1="98.3" y1="1330.6" x2="107.9" y2="1330.6" stroke="#000" stroke-width="2.7"/>
<text x="88.3" y="1338.3" text-anchor="end">0</text>
<path d="M114.3 1076.9 V1069.4 H272 V1076.9" fill="none" stroke="#000" stroke-width="2.7"/>
<text x="179.3" y="1067.32" font-size="20.5" letter-spacing="1.73">***</text>
<text x="110.1" y="1411.7">–100 bp</text>
<text x="276.8" y="1411.7" text-anchor="middle">0 bp</text>
<text x="450.2" y="1411.7" text-anchor="middle">+100 bp</text>
<text x="570.7" y="1411.7" text-anchor="middle">+200 bp</text>
<rect x="107.9" y="1442.2" width="510.4" height="6.4" fill="#fff" stroke="#000" stroke-width="1.3"/>
<rect x="276.6" y="1426.5" width="171.1" height="37.2" fill="#fff" stroke="#000" stroke-width="2.7"/>
<text x="362.35" y="1454" text-anchor="middle">miRNA</text>
<text text-anchor="middle" transform="translate(21.8 1211.6) rotate(-90)">SP1</text>
<text x="0" y="1028.5" font-weight="bold" font-size="40">e</text>
<line x1="457.6" y1="1473.1" x2="498.4" y2="1473.1" stroke="#9a1aa6" stroke-width="5.4"/>
<text x="507.6" y="1480.1" font-size="20.6">Bilateral</text>
<line x1="457.6" y1="1504" x2="498.4" y2="1504" stroke="#4551a8" stroke-width="5.4"/>
<text x="507.6" y="1511" font-size="20.6">Upstream</text>
<line x1="457.6" y1="1534" x2="498.4" y2="1534" stroke="#45b70f" stroke-width="5.4"/>
<text x="507.6" y="1541" font-size="20.6">Downstream</text>
<line x1="457.6" y1="1563.8" x2="498.4" y2="1563.8" stroke="#e95d04" stroke-width="5.4"/>
<text x="507.6" y="1570.8" font-size="20.6">Depleted</text>
<line x1="457.6" y1="1593.8" x2="498.4" y2="1593.8" stroke="#9a9797" stroke-width="5.4"/>
<text x="507.6" y="1600.8" font-size="20.6">Flat</text>
<rect x="815.94" y="302.89" width="18.86" height="79.98" fill="#cccccc"/>
<rect x="839.33" y="125.57" width="18.61" height="257.29" fill="#000"/>
<line x1="819.07" y1="302.89" x2="831.67" y2="302.89" stroke="#000" stroke-width="1.8"/>
<line x1="848.63" y1="102.94" x2="848.63" y2="126.07" stroke="#000" stroke-width="1.8"/>
<line x1="842.63" y1="102.94" x2="854.63" y2="102.94" stroke="#000" stroke-width="1.8"/>
<line x1="821.72" y1="97.15" x2="852.4" y2="97.15" stroke="#000" stroke-width="2"/>
<text x="833.65" y="94.31" font-size="17.5" letter-spacing="1.24">*</text>
<rect x="899.19" y="302.89" width="19.11" height="79.98" fill="#cccccc"/>
<rect x="922.83" y="261.64" width="18.86" height="121.23" fill="#000"/>
<line x1="902.44" y1="302.89" x2="915.04" y2="302.89" stroke="#000" stroke-width="1.8"/>
<line x1="932.26" y1="258.62" x2="932.26" y2="262.14" stroke="#000" stroke-width="1.8"/>
<line x1="926.26" y1="258.62" x2="938.26" y2="258.62" stroke="#000" stroke-width="1.8"/>
<line x1="905.22" y1="253.09" x2="935.65" y2="253.09" stroke="#000" stroke-width="2"/>
<text x="917.03" y="250.75" font-size="17.5" letter-spacing="1.24">*</text>
<rect x="982.43" y="302.89" width="19.11" height="79.98" fill="#cccccc"/>
<rect x="1006.08" y="256.36" width="18.61" height="126.51" fill="#000"/>
<line x1="985.69" y1="302.89" x2="998.29" y2="302.89" stroke="#000" stroke-width="1.8"/>
<line x1="1015.38" y1="250.82" x2="1015.38" y2="256.86" stroke="#000" stroke-width="1.8"/>
<line x1="1009.38" y1="250.82" x2="1021.38" y2="250.82" stroke="#000" stroke-width="1.8"/>
<line x1="988.22" y1="245.54" x2="1018.9" y2="245.54" stroke="#000" stroke-width="2"/>
<text x="1000.15" y="243.2" font-size="17.5" letter-spacing="1.24">*</text>
<rect x="1065.68" y="302.89" width="19.11" height="79.98" fill="#cccccc"/>
<rect x="1089.33" y="221.4" width="18.61" height="161.47" fill="#000"/>
<line x1="1068.94" y1="302.89" x2="1081.54" y2="302.89" stroke="#000" stroke-width="1.8"/>
<line x1="1098.63" y1="215.11" x2="1098.63" y2="221.9" stroke="#000" stroke-width="1.8"/>
<line x1="1092.63" y1="215.11" x2="1104.63" y2="215.11" stroke="#000" stroke-width="1.8"/>
<line x1="1071.72" y1="208.07" x2="1102.15" y2="208.07" stroke="#000" stroke-width="2"/>
<text x="1083.52" y="209" font-size="17.5" letter-spacing="1.24">*</text>
<rect x="1148.98" y="302.89" width="18.86" height="79.98" fill="#cccccc"/>
<rect x="1172.63" y="233.97" width="18.86" height="148.89" fill="#000"/>
<line x1="1152.12" y1="302.89" x2="1164.72" y2="302.89" stroke="#000" stroke-width="1.8"/>
<line x1="1182.06" y1="225.67" x2="1182.06" y2="234.47" stroke="#000" stroke-width="1.8"/>
<line x1="1176.06" y1="225.67" x2="1188.06" y2="225.67" stroke="#000" stroke-width="1.8"/>
<line x1="1155.27" y1="220.39" x2="1185.45" y2="220.39" stroke="#000" stroke-width="2"/>
<text x="1166.95" y="220.57" font-size="17.5" letter-spacing="1.24">*</text>
<rect x="1232.48" y="302.89" width="19.11" height="79.98" fill="#cccccc"/>
<rect x="1255.88" y="234.23" width="18.86" height="148.64" fill="#000"/>
<line x1="1235.74" y1="302.89" x2="1248.34" y2="302.89" stroke="#000" stroke-width="1.8"/>
<line x1="1265.31" y1="228.94" x2="1265.31" y2="234.73" stroke="#000" stroke-width="1.8"/>
<line x1="1259.31" y1="228.94" x2="1271.31" y2="228.94" stroke="#000" stroke-width="1.8"/>
<line x1="1238.27" y1="223.41" x2="1268.95" y2="223.41" stroke="#000" stroke-width="2"/>
<text x="1250.2" y="224.59" font-size="17.5" letter-spacing="1.24">*</text>
<rect x="1315.73" y="302.89" width="19.11" height="79.98" fill="#cccccc"/>
<rect x="1339.12" y="129.85" width="18.86" height="253.02" fill="#000"/>
<line x1="1318.99" y1="302.89" x2="1331.59" y2="302.89" stroke="#000" stroke-width="1.8"/>
<line x1="1348.56" y1="117.78" x2="1348.56" y2="130.35" stroke="#000" stroke-width="1.8"/>
<line x1="1342.56" y1="117.78" x2="1354.56" y2="117.78" stroke="#000" stroke-width="1.8"/>
<line x1="1322.02" y1="110.73" x2="1352.45" y2="110.73" stroke="#000" stroke-width="2"/>
<text x="1333.83" y="107.64" font-size="17.5" letter-spacing="1.24">*</text>
<rect x="1398.98" y="302.89" width="19.11" height="79.98" fill="#cccccc"/>
<rect x="1422.63" y="165.06" width="18.86" height="217.81" fill="#000"/>
<line x1="1402.24" y1="302.89" x2="1414.84" y2="302.89" stroke="#000" stroke-width="1.8"/>
<line x1="1432.06" y1="151.23" x2="1432.06" y2="165.56" stroke="#000" stroke-width="1.8"/>
<line x1="1426.06" y1="151.23" x2="1438.06" y2="151.23" stroke="#000" stroke-width="1.8"/>
<line x1="1405.02" y1="143.43" x2="1435.7" y2="143.43" stroke="#000" stroke-width="2"/>
<text x="1416.95" y="140.59" font-size="17.5" letter-spacing="1.24">*</text>
<rect x="1482.48" y="302.89" width="19.11" height="79.98" fill="#cccccc"/>
<rect x="1505.88" y="178.64" width="18.86" height="204.23" fill="#000"/>
<line x1="1485.74" y1="302.89" x2="1498.34" y2="302.89" stroke="#000" stroke-width="1.8"/>
<line x1="1515.31" y1="162.55" x2="1515.31" y2="179.14" stroke="#000" stroke-width="1.8"/>
<line x1="1509.31" y1="162.55" x2="1521.31" y2="162.55" stroke="#000" stroke-width="1.8"/>
<line x1="1488.27" y1="157.01" x2="1518.95" y2="157.01" stroke="#000" stroke-width="2"/>
<text x="1500.2" y="157.69" font-size="17.5" letter-spacing="1.24">*</text>
<rect x="1580.18" y="302.89" width="19.11" height="79.98" fill="#cccccc"/>
<rect x="1603.82" y="268.18" width="18.61" height="114.69" fill="#000"/>
<line x1="1583.44" y1="302.89" x2="1596.04" y2="302.89" stroke="#000" stroke-width="1.8"/>
<line x1="1613.13" y1="243.78" x2="1613.13" y2="268.68" stroke="#000" stroke-width="1.8"/>
<line x1="1607.13" y1="243.78" x2="1619.13" y2="243.78" stroke="#000" stroke-width="1.8"/>
<line x1="1586.22" y1="239.26" x2="1616.65" y2="239.26" stroke="#000" stroke-width="2"/>
<text x="1601.43" y="231.21" text-anchor="middle" font-size="21">NS</text>
<rect x="1663.43" y="302.89" width="19.11" height="79.98" fill="#cccccc"/>
<rect x="1687.07" y="289.81" width="18.61" height="93.06" fill="#000"/>
<line x1="1666.69" y1="302.89" x2="1679.29" y2="302.89" stroke="#000" stroke-width="1.8"/>
<line x1="1696.38" y1="276.98" x2="1696.38" y2="290.31" stroke="#000" stroke-width="1.8"/>
<line x1="1690.38" y1="276.98" x2="1702.38" y2="276.98" stroke="#000" stroke-width="1.8"/>
<line x1="1669.47" y1="271.7" x2="1700.15" y2="271.7" stroke="#000" stroke-width="2"/>
<text x="1684.81" y="264.41" text-anchor="middle" font-size="21">NS</text>
<rect x="1746.93" y="302.89" width="18.86" height="79.98" fill="#cccccc"/>
<rect x="1770.57" y="278.99" width="18.61" height="103.87" fill="#000"/>
<line x1="1750.06" y1="302.89" x2="1762.66" y2="302.89" stroke="#000" stroke-width="1.8"/>
<line x1="1779.88" y1="250.32" x2="1779.88" y2="279.49" stroke="#000" stroke-width="1.8"/>
<line x1="1773.88" y1="250.32" x2="1785.88" y2="250.32" stroke="#000" stroke-width="1.8"/>
<line x1="1752.97" y1="245.04" x2="1783.4" y2="245.04" stroke="#000" stroke-width="2"/>
<text x="1768.18" y="236.99" text-anchor="middle" font-size="21">NS</text>
<rect x="1829.93" y="302.89" width="19.11" height="79.98" fill="#cccccc"/>
<rect x="1853.82" y="323.76" width="18.86" height="59.1" fill="#000"/>
<line x1="1833.19" y1="302.89" x2="1845.79" y2="302.89" stroke="#000" stroke-width="1.8"/>
<line x1="1863.25" y1="313.45" x2="1863.25" y2="324.26" stroke="#000" stroke-width="1.8"/>
<line x1="1857.25" y1="313.45" x2="1869.25" y2="313.45" stroke="#000" stroke-width="1.8"/>
<line x1="1836.22" y1="296.1" x2="1866.65" y2="296.1" stroke="#000" stroke-width="2"/>
<text x="1851.43" y="286.04" text-anchor="middle" font-size="21">NS</text>
<rect x="1913.18" y="302.89" width="19.11" height="79.98" fill="#cccccc"/>
<rect x="1937.07" y="339.36" width="18.86" height="43.51" fill="#000"/>
<line x1="1916.44" y1="302.89" x2="1929.04" y2="302.89" stroke="#000" stroke-width="1.8"/>
<line x1="1946.5" y1="334.58" x2="1946.5" y2="339.86" stroke="#000" stroke-width="1.8"/>
<line x1="1940.5" y1="334.58" x2="1952.5" y2="334.58" stroke="#000" stroke-width="1.8"/>
<line x1="1919.47" y1="296.1" x2="1949.9" y2="296.1" stroke="#000" stroke-width="2"/>
<text x="1934.68" y="286.04" text-anchor="middle" font-size="21">NS</text>
<rect x="1996.93" y="302.89" width="18.86" height="79.98" fill="#cccccc"/>
<rect x="2020.32" y="308.67" width="18.86" height="74.2" fill="#000"/>
<line x1="2000.06" y1="302.89" x2="2012.66" y2="302.89" stroke="#000" stroke-width="1.8"/>
<line x1="2029.75" y1="292.32" x2="2029.75" y2="309.17" stroke="#000" stroke-width="1.8"/>
<line x1="2023.75" y1="292.32" x2="2035.75" y2="292.32" stroke="#000" stroke-width="1.8"/>
<line x1="2002.97" y1="286.54" x2="2033.4" y2="286.54" stroke="#000" stroke-width="2"/>
<text x="2018.18" y="278.99" text-anchor="middle" font-size="21">NS</text>
<text x="836.94" y="413.55" text-anchor="middle">125a</text>
<text x="920.44" y="413.55" text-anchor="middle">101a</text>
<text x="1003.56" y="413.55" text-anchor="middle">107</text>
<text x="1086.81" y="413.55" text-anchor="middle">582</text>
<text x="1170.24" y="413.55" text-anchor="middle">708</text>
<text x="1253.61" y="413.55" text-anchor="middle">449a</text>
<text x="1336.86" y="413.55" text-anchor="middle">1947</text>
<text x="1420.24" y="413.55" text-anchor="middle">744</text>
<text x="1503.61" y="413.55" text-anchor="middle">700</text>
<text x="1601.31" y="413.55" text-anchor="middle">146b</text>
<text x="1684.56" y="413.55" text-anchor="middle">467g</text>
<text x="1768.06" y="413.55" text-anchor="middle">691</text>
<text x="1851.31" y="413.55" text-anchor="middle">186</text>
<text x="1934.56" y="413.55" text-anchor="middle">330</text>
<text x="2018.06" y="413.55" text-anchor="middle">709</text>
<line x1="795.81" y1="63.71" x2="795.81" y2="383.87" stroke="#000" stroke-width="2"/>
<path d="M789.01 382.87 H1547.12 V424.87" fill="none" stroke="#000" stroke-width="2"/>
<path d="M1561.07 424.87 V382.87 H2050.5" fill="none" stroke="#000" stroke-width="2"/>
<line x1="1044.81" y1="382.87" x2="1044.81" y2="425.37" stroke="#000" stroke-width="2"/>
<line x1="1295.36" y1="382.87" x2="1295.36" y2="425.37" stroke="#000" stroke-width="2"/>
<line x1="1809.81" y1="382.87" x2="1809.81" y2="425.37" stroke="#000" stroke-width="2"/>
<line x1="789.01" y1="64.08" x2="795.81" y2="64.08" stroke="#000" stroke-width="2"/>
<text x="778" y="72.38" text-anchor="end">4</text>
<line x1="789.01" y1="143.93" x2="795.81" y2="143.93" stroke="#000" stroke-width="2"/>
<text x="778" y="152.23" text-anchor="end">3</text>
<line x1="789.01" y1="223.16" x2="795.81" y2="223.16" stroke="#000" stroke-width="2"/>
<text x="778" y="231.46" text-anchor="end">2</text>
<line x1="789.01" y1="302.89" x2="795.81" y2="302.89" stroke="#000" stroke-width="2"/>
<text x="778" y="311.19" text-anchor="end">1</text>
<line x1="789.01" y1="382.87" x2="795.81" y2="382.87" stroke="#000" stroke-width="2"/>
<text x="778" y="391.17" text-anchor="end">0</text>
<text x="920.44" y="455.8" text-anchor="middle" fill="#9a1aa6">Bilateral</text>
<text x="1170.24" y="455.8" text-anchor="middle" fill="#4551a8">Upstream</text>
<text x="1420.24" y="455.8" text-anchor="middle" fill="#45b70f">Downstream</text>
<text x="1684.56" y="455.8" text-anchor="middle" fill="#e95d04">Depleted</text>
<text x="1934.56" y="455.8" text-anchor="middle" fill="#9a9797">Flat</text>
<rect x="815.9" y="41.3" width="23" height="22.6" fill="#cccccc"/>
<text x="850.9" y="58.8" font-size="21">WT</text>
<rect x="907.2" y="41.3" width="23" height="22.6" fill="#000"/>
<text x="940.5" y="58.8" font-size="21">TKO</text>
<text text-anchor="middle" transform="translate(706 223.5) rotate(-90)">Relative Ser2/Ser5</text>
<text text-anchor="middle" transform="translate(736 223.5) rotate(-90)">occupancy</text>
<text x="667.6" y="31" font-weight="bold" font-size="40">b</text>
<rect x="810.15" y="739.63" width="18.86" height="127.01" fill="#cccccc"/>
<rect x="833.79" y="799.99" width="18.61" height="66.65" fill="#000"/>
<line x1="813.28" y1="739.63" x2="825.88" y2="739.63" stroke="#000" stroke-width="1.8"/>
<line x1="843.1" y1="795.97" x2="843.1" y2="800.49" stroke="#000" stroke-width="1.8"/>
<line x1="837.1" y1="795.97" x2="849.1" y2="795.97" stroke="#000" stroke-width="1.8"/>
<line x1="815.94" y1="732.84" x2="846.87" y2="732.84" stroke="#000" stroke-width="2"/>
<text x="827.99" y="727.23" font-size="17.5" letter-spacing="1.24">*</text>
<rect x="893.15" y="739.63" width="19.11" height="127.01" fill="#cccccc"/>
<rect x="916.79" y="790.18" width="19.11" height="76.46" fill="#000"/>
<line x1="896.41" y1="739.63" x2="909.01" y2="739.63" stroke="#000" stroke-width="1.8"/>
<line x1="926.35" y1="775.34" x2="926.35" y2="790.68" stroke="#000" stroke-width="1.8"/>
<line x1="920.35" y1="775.34" x2="932.35" y2="775.34" stroke="#000" stroke-width="1.8"/>
<line x1="899.19" y1="732.84" x2="930.12" y2="732.84" stroke="#000" stroke-width="2"/>
<text x="914.65" y="726.8" text-anchor="middle" font-size="21">NS</text>
<rect x="976.65" y="739.63" width="18.61" height="127.01" fill="#cccccc"/>
<rect x="1000.29" y="767.04" width="18.61" height="99.6" fill="#000"/>
<line x1="979.66" y1="739.63" x2="992.26" y2="739.63" stroke="#000" stroke-width="1.8"/>
<line x1="1009.6" y1="765.03" x2="1009.6" y2="767.54" stroke="#000" stroke-width="1.8"/>
<line x1="1003.6" y1="765.03" x2="1015.6" y2="765.03" stroke="#000" stroke-width="1.8"/>
<line x1="982.69" y1="732.84" x2="1013.37" y2="732.84" stroke="#000" stroke-width="2"/>
<text x="994.62" y="727.23" font-size="17.5" letter-spacing="1.24">*</text>
<rect x="1059.9" y="739.63" width="19.11" height="127.01" fill="#cccccc"/>
<rect x="1083.54" y="798.73" width="18.86" height="67.91" fill="#000"/>
<line x1="1063.16" y1="739.63" x2="1075.76" y2="739.63" stroke="#000" stroke-width="1.8"/>
<line x1="1092.97" y1="788.17" x2="1092.97" y2="799.23" stroke="#000" stroke-width="1.8"/>
<line x1="1086.97" y1="788.17" x2="1098.97" y2="788.17" stroke="#000" stroke-width="1.8"/>
<line x1="1065.68" y1="732.84" x2="1096.87" y2="732.84" stroke="#000" stroke-width="2"/>
<text x="1081.28" y="726.8" text-anchor="middle" font-size="21">NS</text>
<rect x="1143.2" y="739.63" width="18.86" height="127.01" fill="#cccccc"/>
<rect x="1166.84" y="785.15" width="18.86" height="81.49" fill="#000"/>
<line x1="1146.33" y1="739.63" x2="1158.93" y2="739.63" stroke="#000" stroke-width="1.8"/>
<line x1="1176.27" y1="781.88" x2="1176.27" y2="785.65" stroke="#000" stroke-width="1.8"/>
<line x1="1170.27" y1="781.88" x2="1182.27" y2="781.88" stroke="#000" stroke-width="1.8"/>
<line x1="1149.24" y1="732.84" x2="1179.92" y2="732.84" stroke="#000" stroke-width="2"/>
<text x="1161.16" y="727.23" font-size="17.5" letter-spacing="1.24">*</text>
<rect x="1226.45" y="739.63" width="19.11" height="127.01" fill="#cccccc"/>
<rect x="1250.34" y="766.04" width="18.86" height="100.6" fill="#000"/>
<line x1="1229.71" y1="739.63" x2="1242.31" y2="739.63" stroke="#000" stroke-width="1.8"/>
<line x1="1259.77" y1="751.95" x2="1259.77" y2="766.54" stroke="#000" stroke-width="1.8"/>
<line x1="1253.77" y1="751.95" x2="1265.77" y2="751.95" stroke="#000" stroke-width="1.8"/>
<line x1="1232.74" y1="732.84" x2="1263.42" y2="732.84" stroke="#000" stroke-width="2"/>
<text x="1248.08" y="726.8" text-anchor="middle" font-size="21">NS</text>
<rect x="1309.95" y="739.63" width="18.86" height="127.01" fill="#cccccc"/>
<rect x="1333.59" y="775.34" width="18.86" height="91.3" fill="#000"/>
<line x1="1313.08" y1="739.63" x2="1325.68" y2="739.63" stroke="#000" stroke-width="1.8"/>
<line x1="1343.02" y1="774.08" x2="1343.02" y2="775.84" stroke="#000" stroke-width="1.8"/>
<line x1="1337.02" y1="774.08" x2="1349.02" y2="774.08" stroke="#000" stroke-width="1.8"/>
<line x1="1315.73" y1="732.84" x2="1346.67" y2="732.84" stroke="#000" stroke-width="2"/>
<text x="1323.76" y="729.74" font-size="17.5" letter-spacing="1.24">**</text>
<rect x="1393.2" y="739.63" width="18.86" height="127.01" fill="#cccccc"/>
<rect x="1416.84" y="827.91" width="18.86" height="38.73" fill="#000"/>
<line x1="1396.33" y1="739.63" x2="1408.93" y2="739.63" stroke="#000" stroke-width="1.8"/>
<line x1="1426.27" y1="818.85" x2="1426.27" y2="828.41" stroke="#000" stroke-width="1.8"/>
<line x1="1420.27" y1="818.85" x2="1432.27" y2="818.85" stroke="#000" stroke-width="1.8"/>
<line x1="1399.24" y1="732.84" x2="1429.92" y2="732.84" stroke="#000" stroke-width="2"/>
<text x="1411.16" y="729.24" font-size="17.5" letter-spacing="1.24">*</text>
<rect x="1476.45" y="739.63" width="18.86" height="127.01" fill="#cccccc"/>
<rect x="1500.09" y="780.88" width="18.86" height="85.76" fill="#000"/>
<line x1="1479.58" y1="739.63" x2="1492.18" y2="739.63" stroke="#000" stroke-width="1.8"/>
<line x1="1509.52" y1="775.09" x2="1509.52" y2="781.38" stroke="#000" stroke-width="1.8"/>
<line x1="1503.52" y1="775.09" x2="1515.52" y2="775.09" stroke="#000" stroke-width="1.8"/>
<line x1="1482.48" y1="732.84" x2="1513.17" y2="732.84" stroke="#000" stroke-width="2"/>
<text x="1494.41" y="727.23" font-size="17.5" letter-spacing="1.24">*</text>
<rect x="1574.4" y="739.63" width="18.61" height="127.01" fill="#cccccc"/>
<rect x="1598.04" y="780.88" width="18.86" height="85.76" fill="#000"/>
<line x1="1577.4" y1="739.63" x2="1590" y2="739.63" stroke="#000" stroke-width="1.8"/>
<line x1="1607.47" y1="758.49" x2="1607.47" y2="781.38" stroke="#000" stroke-width="1.8"/>
<line x1="1601.47" y1="758.49" x2="1613.47" y2="758.49" stroke="#000" stroke-width="1.8"/>
<line x1="1580.18" y1="732.84" x2="1611.12" y2="732.84" stroke="#000" stroke-width="2"/>
<text x="1595.65" y="726.8" text-anchor="middle" font-size="21">NS</text>
<rect x="1657.65" y="739.63" width="18.86" height="127.01" fill="#cccccc"/>
<rect x="1681.04" y="776.85" width="19.11" height="89.79" fill="#000"/>
<line x1="1660.78" y1="739.63" x2="1673.38" y2="739.63" stroke="#000" stroke-width="1.8"/>
<line x1="1690.59" y1="758.99" x2="1690.59" y2="777.35" stroke="#000" stroke-width="1.8"/>
<line x1="1684.59" y1="758.99" x2="1696.59" y2="758.99" stroke="#000" stroke-width="1.8"/>
<line x1="1663.43" y1="732.84" x2="1694.37" y2="732.84" stroke="#000" stroke-width="2"/>
<text x="1678.9" y="726.8" text-anchor="middle" font-size="21">NS</text>
<rect x="1740.9" y="739.63" width="18.86" height="127.01" fill="#cccccc"/>
<rect x="1764.54" y="729.82" width="18.86" height="136.82" fill="#000"/>
<line x1="1744.03" y1="739.63" x2="1756.63" y2="739.63" stroke="#000" stroke-width="1.8"/>
<line x1="1773.97" y1="706.93" x2="1773.97" y2="730.32" stroke="#000" stroke-width="1.8"/>
<line x1="1767.97" y1="706.93" x2="1779.97" y2="706.93" stroke="#000" stroke-width="1.8"/>
<line x1="1746.93" y1="701.65" x2="1777.87" y2="701.65" stroke="#000" stroke-width="2"/>
<text x="1762.4" y="691.59" text-anchor="middle" font-size="21">NS</text>
<rect x="1824.14" y="739.63" width="19.11" height="127.01" fill="#cccccc"/>
<rect x="1848.04" y="655.88" width="18.86" height="210.76" fill="#000"/>
<line x1="1827.4" y1="739.63" x2="1840" y2="739.63" stroke="#000" stroke-width="1.8"/>
<line x1="1857.47" y1="613.87" x2="1857.47" y2="656.38" stroke="#000" stroke-width="1.8"/>
<line x1="1851.47" y1="613.87" x2="1863.47" y2="613.87" stroke="#000" stroke-width="1.8"/>
<line x1="1830.18" y1="607.84" x2="1861.12" y2="607.84" stroke="#000" stroke-width="2"/>
<text x="1845.65" y="601.05" text-anchor="middle" font-size="21">NS</text>
<rect x="1907.9" y="739.63" width="18.61" height="127.01" fill="#cccccc"/>
<rect x="1931.29" y="713.47" width="18.61" height="153.17" fill="#000"/>
<line x1="1910.9" y1="739.63" x2="1923.5" y2="739.63" stroke="#000" stroke-width="1.8"/>
<line x1="1940.59" y1="697.37" x2="1940.59" y2="713.97" stroke="#000" stroke-width="1.8"/>
<line x1="1934.59" y1="697.37" x2="1946.59" y2="697.37" stroke="#000" stroke-width="1.8"/>
<line x1="1913.43" y1="692.34" x2="1944.37" y2="692.34" stroke="#000" stroke-width="2"/>
<text x="1928.9" y="683.54" text-anchor="middle" font-size="21">NS</text>
<rect x="1990.9" y="739.63" width="19.11" height="127.01" fill="#cccccc"/>
<rect x="2014.54" y="773.33" width="18.86" height="93.31" fill="#000"/>
<line x1="1994.15" y1="739.63" x2="2006.75" y2="739.63" stroke="#000" stroke-width="1.8"/>
<line x1="2023.97" y1="754.22" x2="2023.97" y2="773.83" stroke="#000" stroke-width="1.8"/>
<line x1="2017.97" y1="754.22" x2="2029.97" y2="754.22" stroke="#000" stroke-width="1.8"/>
<line x1="1996.93" y1="732.84" x2="2027.62" y2="732.84" stroke="#000" stroke-width="2"/>
<text x="2012.27" y="726.8" text-anchor="middle" font-size="21">NS</text>
<text x="831.28" y="898.08" text-anchor="middle">125a</text>
<text x="914.53" y="898.08" text-anchor="middle">101a</text>
<text x="997.78" y="898.08" text-anchor="middle">107</text>
<text x="1081.15" y="898.08" text-anchor="middle">582</text>
<text x="1164.45" y="898.08" text-anchor="middle">708</text>
<text x="1247.83" y="898.08" text-anchor="middle">449a</text>
<text x="1331.2" y="898.08" text-anchor="middle">1947</text>
<text x="1414.45" y="898.08" text-anchor="middle">744</text>
<text x="1497.7" y="898.08" text-anchor="middle">700</text>
<text x="1595.65" y="898.08" text-anchor="middle">146b</text>
<text x="1678.9" y="898.08" text-anchor="middle">467g</text>
<text x="1762.15" y="898.08" text-anchor="middle">691</text>
<text x="1845.52" y="898.08" text-anchor="middle">186</text>
<text x="1928.9" y="898.08" text-anchor="middle">330</text>
<text x="2012.15" y="898.08" text-anchor="middle">709</text>
<line x1="795.81" y1="547.23" x2="795.81" y2="867.64" stroke="#000" stroke-width="2"/>
<path d="M789.01 866.64 H1541.09 V909.9" fill="none" stroke="#000" stroke-width="2"/>
<path d="M1555.53 909.9 V866.64 H2039.69" fill="none" stroke="#000" stroke-width="2"/>
<line x1="1039.53" y1="866.64" x2="1039.53" y2="910.4" stroke="#000" stroke-width="2"/>
<line x1="1289.58" y1="866.64" x2="1289.58" y2="910.4" stroke="#000" stroke-width="2"/>
<line x1="1804.02" y1="866.64" x2="1804.02" y2="910.4" stroke="#000" stroke-width="2"/>
<line x1="789.01" y1="548.23" x2="795.81" y2="548.23" stroke="#000" stroke-width="2"/>
<text x="778" y="556.53" text-anchor="end">2.5</text>
<line x1="789.01" y1="611.86" x2="795.81" y2="611.86" stroke="#000" stroke-width="2"/>
<text x="778" y="620.16" text-anchor="end">2</text>
<line x1="789.01" y1="676" x2="795.81" y2="676" stroke="#000" stroke-width="2"/>
<text x="778" y="684.3" text-anchor="end">1.5</text>
<line x1="789.01" y1="739.63" x2="795.81" y2="739.63" stroke="#000" stroke-width="2"/>
<text x="778" y="747.93" text-anchor="end">1</text>
<line x1="789.01" y1="803.26" x2="795.81" y2="803.26" stroke="#000" stroke-width="2"/>
<text x="778" y="811.56" text-anchor="end">0.5</text>
<line x1="789.01" y1="866.64" x2="795.81" y2="866.64" stroke="#000" stroke-width="2"/>
<text x="778" y="874.94" text-anchor="end">0</text>
<text x="914.53" y="941.59" text-anchor="middle" fill="#9a1aa6">Bilateral</text>
<text x="1164.45" y="941.59" text-anchor="middle" fill="#4551a8">Upstream</text>
<text x="1414.45" y="941.59" text-anchor="middle" fill="#45b70f">Downstream</text>
<text x="1678.9" y="941.59" text-anchor="middle" fill="#e95d04">Depleted</text>
<text x="1928.9" y="941.59" text-anchor="middle" fill="#9a9797">Flat</text>
<rect x="817.4" y="565.3" width="23" height="22.6" fill="#cccccc"/>
<text x="849" y="583.2" font-size="21">WT</text>
<rect x="908.7" y="565.3" width="23" height="22.6" fill="#000"/>
<text x="939.7" y="583.2" font-size="21">TKO</text>
<text text-anchor="middle" transform="translate(689 707.7) rotate(-90)">Relative Mecp2</text>
<text text-anchor="middle" transform="translate(719.3 707.7) rotate(-90)">occupancy</text>
<text x="667.6" y="542.2" font-weight="bold" font-size="40">d</text>
<rect x="811.16" y="1147.7" width="18.86" height="213.53" fill="#cccccc"/>
<rect x="832.54" y="1278.73" width="18.61" height="82.49" fill="#000"/>
<line x1="814.29" y1="1147.7" x2="826.89" y2="1147.7" stroke="#000" stroke-width="1.8"/>
<line x1="841.84" y1="1272.19" x2="841.84" y2="1279.23" stroke="#000" stroke-width="3"/>
<line x1="837.09" y1="1272.19" x2="846.59" y2="1272.19" stroke="#000" stroke-width="3"/>
<line x1="815.94" y1="1137.13" x2="846.87" y2="1137.13" stroke="#000" stroke-width="2"/>
<text x="823.97" y="1138.06" font-size="17.5" letter-spacing="1.24">**</text>
<rect x="894.66" y="1147.7" width="18.61" height="213.53" fill="#cccccc"/>
<rect x="916.04" y="1281.5" width="18.61" height="79.73" fill="#000"/>
<line x1="897.66" y1="1147.7" x2="910.26" y2="1147.7" stroke="#000" stroke-width="1.8"/>
<line x1="925.34" y1="1273.7" x2="925.34" y2="1282" stroke="#000" stroke-width="3"/>
<line x1="920.59" y1="1273.7" x2="930.09" y2="1273.7" stroke="#000" stroke-width="3"/>
<line x1="899.19" y1="1141.16" x2="930.12" y2="1141.16" stroke="#000" stroke-width="2"/>
<text x="911.24" y="1138.06" font-size="17.5" letter-spacing="1.24">*</text>
<rect x="977.91" y="1147.7" width="18.86" height="213.53" fill="#cccccc"/>
<rect x="999.29" y="1314.2" width="18.61" height="47.03" fill="#000"/>
<line x1="981.04" y1="1147.7" x2="993.64" y2="1147.7" stroke="#000" stroke-width="1.8"/>
<line x1="1008.59" y1="1310.17" x2="1008.59" y2="1314.7" stroke="#000" stroke-width="3"/>
<line x1="1003.84" y1="1310.17" x2="1013.34" y2="1310.17" stroke="#000" stroke-width="3"/>
<line x1="982.69" y1="1137.13" x2="1013.37" y2="1137.13" stroke="#000" stroke-width="2"/>
<text x="990.59" y="1138.06" font-size="17.5" letter-spacing="1.24">**</text>
<rect x="1061.16" y="1147.7" width="18.86" height="213.53" fill="#cccccc"/>
<rect x="1082.79" y="1222.39" width="18.61" height="138.83" fill="#000"/>
<line x1="1064.29" y1="1146.44" x2="1076.89" y2="1146.44" stroke="#000" stroke-width="1.8"/>
<line x1="1092.09" y1="1212.33" x2="1092.09" y2="1222.89" stroke="#000" stroke-width="3"/>
<line x1="1087.34" y1="1212.33" x2="1096.84" y2="1212.33" stroke="#000" stroke-width="3"/>
<line x1="1066.19" y1="1137.13" x2="1096.87" y2="1137.13" stroke="#000" stroke-width="2"/>
<text x="1078.12" y="1138.06" font-size="17.5" letter-spacing="1.24">*</text>
<rect x="1144.71" y="1147.7" width="18.86" height="213.53" fill="#cccccc"/>
<rect x="1166.34" y="1250.81" width="18.61" height="110.41" fill="#000"/>
<line x1="1147.84" y1="1146.44" x2="1160.44" y2="1146.44" stroke="#000" stroke-width="1.8"/>
<line x1="1175.64" y1="1244.02" x2="1175.64" y2="1251.31" stroke="#000" stroke-width="3"/>
<line x1="1170.89" y1="1244.02" x2="1180.39" y2="1244.02" stroke="#000" stroke-width="3"/>
<line x1="1149.24" y1="1137.13" x2="1180.42" y2="1137.13" stroke="#000" stroke-width="2"/>
<text x="1161.42" y="1138.06" font-size="17.5" letter-spacing="1.24">*</text>
<rect x="1228.21" y="1147.7" width="18.86" height="213.53" fill="#cccccc"/>
<rect x="1249.59" y="1254.08" width="18.61" height="107.14" fill="#000"/>
<line x1="1231.34" y1="1147.7" x2="1243.94" y2="1147.7" stroke="#000" stroke-width="1.8"/>
<line x1="1258.89" y1="1249.56" x2="1258.89" y2="1254.58" stroke="#000" stroke-width="3"/>
<line x1="1254.14" y1="1249.56" x2="1263.64" y2="1249.56" stroke="#000" stroke-width="3"/>
<line x1="1232.74" y1="1137.13" x2="1263.67" y2="1137.13" stroke="#000" stroke-width="2"/>
<text x="1244.79" y="1138.06" font-size="17.5" letter-spacing="1.24">*</text>
<rect x="1311.71" y="1147.7" width="18.36" height="213.53" fill="#cccccc"/>
<rect x="1333.09" y="1306.4" width="18.61" height="54.83" fill="#000"/>
<line x1="1314.59" y1="1147.7" x2="1327.19" y2="1147.7" stroke="#000" stroke-width="1.8"/>
<line x1="1342.39" y1="1301.37" x2="1342.39" y2="1306.9" stroke="#000" stroke-width="3"/>
<line x1="1337.64" y1="1301.37" x2="1347.14" y2="1301.37" stroke="#000" stroke-width="3"/>
<line x1="1316.24" y1="1137.13" x2="1347.17" y2="1137.13" stroke="#000" stroke-width="2"/>
<text x="1324.27" y="1138.06" font-size="17.5" letter-spacing="1.24">**</text>
<rect x="1394.96" y="1147.7" width="18.86" height="213.53" fill="#cccccc"/>
<rect x="1416.34" y="1279.99" width="18.86" height="81.24" fill="#000"/>
<line x1="1398.09" y1="1147.7" x2="1410.69" y2="1147.7" stroke="#000" stroke-width="1.8"/>
<line x1="1425.77" y1="1269.43" x2="1425.77" y2="1280.49" stroke="#000" stroke-width="3"/>
<line x1="1421.02" y1="1269.43" x2="1430.52" y2="1269.43" stroke="#000" stroke-width="3"/>
<line x1="1399.49" y1="1137.13" x2="1430.67" y2="1137.13" stroke="#000" stroke-width="2"/>
<text x="1411.67" y="1138.06" font-size="17.5" letter-spacing="1.24">*</text>
<rect x="1478.46" y="1147.7" width="18.61" height="213.53" fill="#cccccc"/>
<rect x="1500.09" y="1268.67" width="18.36" height="92.56" fill="#000"/>
<line x1="1481.47" y1="1147.7" x2="1494.07" y2="1147.7" stroke="#000" stroke-width="1.8"/>
<line x1="1509.27" y1="1261.63" x2="1509.27" y2="1269.17" stroke="#000" stroke-width="3"/>
<line x1="1504.52" y1="1261.63" x2="1514.02" y2="1261.63" stroke="#000" stroke-width="3"/>
<line x1="1482.99" y1="1137.13" x2="1513.92" y2="1137.13" stroke="#000" stroke-width="2"/>
<text x="1491.02" y="1138.06" font-size="17.5" letter-spacing="1.24">**</text>
<rect x="1576.16" y="1147.7" width="18.86" height="213.53" fill="#cccccc"/>
<rect x="1597.79" y="1219.38" width="18.86" height="141.85" fill="#000"/>
<line x1="1579.29" y1="1147.7" x2="1591.89" y2="1147.7" stroke="#000" stroke-width="1.8"/>
<line x1="1607.22" y1="1197.75" x2="1607.22" y2="1219.88" stroke="#000" stroke-width="3"/>
<line x1="1602.47" y1="1197.75" x2="1611.97" y2="1197.75" stroke="#000" stroke-width="3"/>
<line x1="1581.19" y1="1137.13" x2="1611.87" y2="1137.13" stroke="#000" stroke-width="2"/>
<text x="1596.53" y="1130.85" text-anchor="middle" font-size="21">NS</text>
<rect x="1659.66" y="1147.7" width="18.86" height="213.53" fill="#cccccc"/>
<rect x="1681.04" y="1147.19" width="19.11" height="214.03" fill="#000"/>
<line x1="1662.79" y1="1146.44" x2="1675.39" y2="1146.44" stroke="#000" stroke-width="1.8"/>
<line x1="1690.59" y1="1120.03" x2="1690.59" y2="1147.69" stroke="#000" stroke-width="3"/>
<line x1="1685.84" y1="1120.03" x2="1695.34" y2="1120.03" stroke="#000" stroke-width="3"/>
<line x1="1664.44" y1="1110.22" x2="1695.62" y2="1110.22" stroke="#000" stroke-width="2"/>
<text x="1680.03" y="1103.68" text-anchor="middle" font-size="21">NS</text>
<rect x="1743.16" y="1147.7" width="18.86" height="213.53" fill="#cccccc"/>
<rect x="1764.54" y="1139.9" width="18.61" height="221.33" fill="#000"/>
<line x1="1746.29" y1="1147.7" x2="1758.89" y2="1147.7" stroke="#000" stroke-width="1.8"/>
<line x1="1773.84" y1="1120.28" x2="1773.84" y2="1140.4" stroke="#000" stroke-width="3"/>
<line x1="1769.09" y1="1120.28" x2="1778.59" y2="1120.28" stroke="#000" stroke-width="3"/>
<line x1="1747.94" y1="1110.72" x2="1778.87" y2="1110.72" stroke="#000" stroke-width="2"/>
<text x="1763.41" y="1103.93" text-anchor="middle" font-size="21">NS</text>
<rect x="1826.91" y="1147.7" width="18.36" height="213.53" fill="#cccccc"/>
<rect x="1848.04" y="1115.25" width="18.61" height="245.98" fill="#000"/>
<line x1="1829.79" y1="1147.7" x2="1842.39" y2="1147.7" stroke="#000" stroke-width="1.8"/>
<line x1="1857.34" y1="1103.43" x2="1857.34" y2="1115.75" stroke="#000" stroke-width="3"/>
<line x1="1852.59" y1="1103.43" x2="1862.09" y2="1103.43" stroke="#000" stroke-width="3"/>
<line x1="1831.19" y1="1093.37" x2="1862.12" y2="1093.37" stroke="#000" stroke-width="2"/>
<text x="1846.65" y="1087.08" text-anchor="middle" font-size="21">NS</text>
<rect x="1909.91" y="1147.7" width="18.86" height="213.53" fill="#cccccc"/>
<rect x="1931.54" y="1222.14" width="18.61" height="139.08" fill="#000"/>
<line x1="1913.04" y1="1147.7" x2="1925.64" y2="1147.7" stroke="#000" stroke-width="1.8"/>
<line x1="1940.85" y1="1199.51" x2="1940.85" y2="1222.64" stroke="#000" stroke-width="3"/>
<line x1="1936.1" y1="1199.51" x2="1945.6" y2="1199.51" stroke="#000" stroke-width="3"/>
<line x1="1914.69" y1="1138.89" x2="1945.88" y2="1138.89" stroke="#000" stroke-width="2"/>
<text x="1930.28" y="1122.55" text-anchor="middle" font-size="21">NS</text>
<rect x="1993.41" y="1147.7" width="18.86" height="213.53" fill="#cccccc"/>
<rect x="2014.79" y="1159.01" width="18.61" height="202.21" fill="#000"/>
<line x1="1996.54" y1="1147.7" x2="2009.14" y2="1147.7" stroke="#000" stroke-width="1.8"/>
<line x1="2024.09" y1="1107.2" x2="2024.09" y2="1159.51" stroke="#000" stroke-width="3"/>
<line x1="2019.34" y1="1107.2" x2="2028.84" y2="1107.2" stroke="#000" stroke-width="3"/>
<line x1="1998.19" y1="1097.65" x2="2028.87" y2="1097.65" stroke="#000" stroke-width="2"/>
<text x="2013.53" y="1091.36" text-anchor="middle" font-size="21">NS</text>
<text x="831.15" y="1393.17" text-anchor="middle">125a</text>
<text x="914.65" y="1393.17" text-anchor="middle">101a</text>
<text x="997.9" y="1393.17" text-anchor="middle">107</text>
<text x="1081.28" y="1393.17" text-anchor="middle">582</text>
<text x="1164.83" y="1393.17" text-anchor="middle">708</text>
<text x="1248.2" y="1393.17" text-anchor="middle">449a</text>
<text x="1331.71" y="1393.17" text-anchor="middle">1947</text>
<text x="1415.08" y="1393.17" text-anchor="middle">744</text>
<text x="1498.46" y="1393.17" text-anchor="middle">700</text>
<text x="1596.4" y="1393.17" text-anchor="middle">146b</text>
<text x="1679.9" y="1393.17" text-anchor="middle">467g</text>
<text x="1763.15" y="1393.17" text-anchor="middle">691</text>
<text x="1846.78" y="1393.17" text-anchor="middle">186</text>
<text x="1930.03" y="1393.17" text-anchor="middle">330</text>
<text x="2013.41" y="1393.17" text-anchor="middle">709</text>
<line x1="795.81" y1="1039.8" x2="795.81" y2="1362.23" stroke="#000" stroke-width="2"/>
<path d="M789.01 1361.23 H1542.6 V1403.73" fill="none" stroke="#000" stroke-width="2"/>
<path d="M1556.54 1403.73 V1361.23 H2044.22" fill="none" stroke="#000" stroke-width="2"/>
<line x1="1039.53" y1="1361.23" x2="1039.53" y2="1404.23" stroke="#000" stroke-width="2"/>
<line x1="1290.08" y1="1361.23" x2="1290.08" y2="1404.23" stroke="#000" stroke-width="2"/>
<line x1="1805.03" y1="1361.23" x2="1805.03" y2="1404.23" stroke="#000" stroke-width="2"/>
<line x1="789.01" y1="1040.8" x2="795.81" y2="1040.8" stroke="#000" stroke-width="2"/>
<text x="778" y="1049.1" text-anchor="end">1.5</text>
<line x1="789.01" y1="1147.7" x2="795.81" y2="1147.7" stroke="#000" stroke-width="2"/>
<text x="778" y="1156" text-anchor="end">1</text>
<line x1="789.01" y1="1254.34" x2="795.81" y2="1254.34" stroke="#000" stroke-width="2"/>
<text x="778" y="1262.64" text-anchor="end">0.5</text>
<line x1="789.01" y1="1361.23" x2="795.81" y2="1361.23" stroke="#000" stroke-width="2"/>
<text x="778" y="1369.53" text-anchor="end">0</text>
<text x="914.65" y="1433.66" text-anchor="middle" fill="#9a1aa6">Bilateral</text>
<text x="1164.83" y="1433.66" text-anchor="middle" fill="#4551a8">Upstream</text>
<text x="1415.08" y="1433.66" text-anchor="middle" fill="#45b70f">Downstream</text>
<text x="1679.9" y="1433.66" text-anchor="middle" fill="#e95d04">Depleted</text>
<text x="1930.03" y="1433.66" text-anchor="middle" fill="#9a9797">Flat</text>
<rect x="817.4" y="1042.3" width="23" height="22.6" fill="#cccccc"/>
<text x="848.2" y="1059.9" font-size="21">Si control</text>
<rect x="962.8" y="1042.3" width="23" height="22.6" fill="#000"/>
<text x="993.1" y="1059.9" font-size="21">Si MeCP2</text>
<text text-anchor="middle" transform="translate(689 1200.6) rotate(-90)">Efficiency value of miR</text>
<text text-anchor="middle" transform="translate(718.7 1200.6) rotate(-90)">(Mature/Pri)</text>
<text x="667.6" y="1027.7" font-weight="bold" font-size="40">g</text>
<rect x="810.15" y="1741.85" width="18.86" height="105.89" fill="#cccccc"/>
<rect x="833.79" y="1681.48" width="18.61" height="166.25" fill="#000"/>
<line x1="813.28" y1="1741.85" x2="825.88" y2="1741.85" stroke="#000" stroke-width="1.8"/>
<line x1="843.1" y1="1679.72" x2="843.1" y2="1681.98" stroke="#000" stroke-width="1.8"/>
<line x1="837.1" y1="1679.72" x2="849.1" y2="1679.72" stroke="#000" stroke-width="1.8"/>
<line x1="815.94" y1="1673.69" x2="846.62" y2="1673.69" stroke="#000" stroke-width="2"/>
<text x="823.84" y="1668.58" font-size="17.5" letter-spacing="1.24">**</text>
<rect x="893.15" y="1741.85" width="19.11" height="105.89" fill="#cccccc"/>
<rect x="916.79" y="1675.45" width="19.11" height="172.28" fill="#000"/>
<line x1="896.41" y1="1741.85" x2="909.01" y2="1741.85" stroke="#000" stroke-width="1.8"/>
<line x1="926.35" y1="1667.15" x2="926.35" y2="1675.95" stroke="#000" stroke-width="1.8"/>
<line x1="920.35" y1="1667.15" x2="932.35" y2="1667.15" stroke="#000" stroke-width="1.8"/>
<line x1="899.19" y1="1660.61" x2="929.87" y2="1660.61" stroke="#000" stroke-width="2"/>
<text x="911.11" y="1658.02" font-size="17.5" letter-spacing="1.24">*</text>
<rect x="976.65" y="1741.85" width="18.61" height="105.89" fill="#cccccc"/>
<rect x="1000.29" y="1680.98" width="18.61" height="166.75" fill="#000"/>
<line x1="979.66" y1="1741.85" x2="992.26" y2="1741.85" stroke="#000" stroke-width="1.8"/>
<line x1="1009.6" y1="1674.94" x2="1009.6" y2="1681.48" stroke="#000" stroke-width="1.8"/>
<line x1="1003.6" y1="1674.94" x2="1015.6" y2="1674.94" stroke="#000" stroke-width="1.8"/>
<line x1="982.69" y1="1668.4" x2="1013.37" y2="1668.4" stroke="#000" stroke-width="2"/>
<text x="994.62" y="1664.55" font-size="17.5" letter-spacing="1.24">*</text>
<rect x="1059.9" y="1741.85" width="19.11" height="105.89" fill="#cccccc"/>
<rect x="1083.54" y="1706.13" width="18.86" height="141.6" fill="#000"/>
<line x1="1063.16" y1="1741.85" x2="1075.76" y2="1741.85" stroke="#000" stroke-width="1.8"/>
<line x1="1092.97" y1="1704.87" x2="1092.97" y2="1706.63" stroke="#000" stroke-width="1.8"/>
<line x1="1086.97" y1="1704.87" x2="1098.97" y2="1704.87" stroke="#000" stroke-width="1.8"/>
<line x1="1065.68" y1="1698.59" x2="1096.62" y2="1698.59" stroke="#000" stroke-width="2"/>
<text x="1073.71" y="1692.72" font-size="17.5" letter-spacing="1.24">**</text>
<rect x="1143.2" y="1741.85" width="18.86" height="105.89" fill="#cccccc"/>
<rect x="1166.84" y="1591.19" width="18.86" height="256.54" fill="#000"/>
<line x1="1146.33" y1="1741.85" x2="1158.93" y2="1741.85" stroke="#000" stroke-width="1.8"/>
<line x1="1176.27" y1="1576.6" x2="1176.27" y2="1591.69" stroke="#000" stroke-width="1.8"/>
<line x1="1170.27" y1="1576.6" x2="1182.27" y2="1576.6" stroke="#000" stroke-width="1.8"/>
<line x1="1149.24" y1="1569.81" x2="1179.92" y2="1569.81" stroke="#000" stroke-width="2"/>
<text x="1161.16" y="1567.47" font-size="17.5" letter-spacing="1.24">*</text>
<rect x="1226.45" y="1741.85" width="18.86" height="105.89" fill="#cccccc"/>
<rect x="1250.34" y="1717.45" width="18.61" height="130.28" fill="#000"/>
<line x1="1229.58" y1="1741.85" x2="1242.18" y2="1741.85" stroke="#000" stroke-width="1.8"/>
<line x1="1259.65" y1="1715.19" x2="1259.65" y2="1717.95" stroke="#000" stroke-width="1.8"/>
<line x1="1253.65" y1="1715.19" x2="1265.65" y2="1715.19" stroke="#000" stroke-width="1.8"/>
<line x1="1232.74" y1="1709.15" x2="1263.17" y2="1709.15" stroke="#000" stroke-width="2"/>
<text x="1244.54" y="1705.05" font-size="17.5" letter-spacing="1.24">*</text>
<rect x="1310.45" y="1741.85" width="18.36" height="105.89" fill="#cccccc"/>
<rect x="1334.09" y="1651.8" width="18.86" height="195.93" fill="#000"/>
<line x1="1313.33" y1="1741.85" x2="1325.93" y2="1741.85" stroke="#000" stroke-width="1.8"/>
<line x1="1343.53" y1="1650.3" x2="1343.53" y2="1652.3" stroke="#000" stroke-width="1.8"/>
<line x1="1337.53" y1="1650.3" x2="1349.53" y2="1650.3" stroke="#000" stroke-width="1.8"/>
<line x1="1316.24" y1="1642.75" x2="1346.92" y2="1642.75" stroke="#000" stroke-width="2"/>
<text x="1320.12" y="1634.63" font-size="17.5" letter-spacing="1.24">***</text>
<rect x="1393.7" y="1741.85" width="18.86" height="105.89" fill="#cccccc"/>
<rect x="1417.34" y="1683.49" width="18.86" height="164.24" fill="#000"/>
<line x1="1396.83" y1="1741.85" x2="1409.43" y2="1741.85" stroke="#000" stroke-width="1.8"/>
<line x1="1426.78" y1="1679.47" x2="1426.78" y2="1683.99" stroke="#000" stroke-width="1.8"/>
<line x1="1420.78" y1="1679.47" x2="1432.78" y2="1679.47" stroke="#000" stroke-width="1.8"/>
<line x1="1399.74" y1="1673.69" x2="1430.42" y2="1673.69" stroke="#000" stroke-width="2"/>
<text x="1411.67" y="1665.56" font-size="17.5" letter-spacing="1.24">*</text>
<rect x="1476.95" y="1741.85" width="18.86" height="105.89" fill="#cccccc"/>
<rect x="1500.59" y="1711.16" width="18.86" height="136.57" fill="#000"/>
<line x1="1480.08" y1="1741.85" x2="1492.68" y2="1741.85" stroke="#000" stroke-width="1.8"/>
<line x1="1510.03" y1="1708.9" x2="1510.03" y2="1711.66" stroke="#000" stroke-width="1.8"/>
<line x1="1504.03" y1="1708.9" x2="1516.03" y2="1708.9" stroke="#000" stroke-width="1.8"/>
<line x1="1482.99" y1="1702.11" x2="1513.92" y2="1702.11" stroke="#000" stroke-width="2"/>
<text x="1495.04" y="1699.51" font-size="17.5" letter-spacing="1.24">*</text>
<rect x="1574.14" y="1741.85" width="18.86" height="105.89" fill="#cccccc"/>
<rect x="1598.04" y="1707.39" width="18.86" height="140.34" fill="#000"/>
<line x1="1577.28" y1="1741.85" x2="1589.88" y2="1741.85" stroke="#000" stroke-width="1.8"/>
<line x1="1607.47" y1="1678.46" x2="1607.47" y2="1707.89" stroke="#000" stroke-width="1.8"/>
<line x1="1601.47" y1="1678.46" x2="1613.47" y2="1678.46" stroke="#000" stroke-width="1.8"/>
<line x1="1580.18" y1="1672.93" x2="1611.12" y2="1672.93" stroke="#000" stroke-width="2"/>
<text x="1595.65" y="1666.64" text-anchor="middle" font-size="21">NS</text>
<rect x="1657.9" y="1741.85" width="18.61" height="105.89" fill="#cccccc"/>
<rect x="1681.54" y="1725.5" width="18.61" height="122.23" fill="#000"/>
<line x1="1660.9" y1="1741.85" x2="1673.5" y2="1741.85" stroke="#000" stroke-width="1.8"/>
<line x1="1690.85" y1="1708.9" x2="1690.85" y2="1726" stroke="#000" stroke-width="1.8"/>
<line x1="1684.85" y1="1708.9" x2="1696.85" y2="1708.9" stroke="#000" stroke-width="1.8"/>
<line x1="1663.43" y1="1703.11" x2="1694.11" y2="1703.11" stroke="#000" stroke-width="2"/>
<text x="1678.77" y="1694.81" text-anchor="middle" font-size="21">NS</text>
<rect x="1740.9" y="1741.85" width="18.86" height="105.89" fill="#cccccc"/>
<rect x="1764.54" y="1775.55" width="18.86" height="72.18" fill="#000"/>
<line x1="1744.03" y1="1741.85" x2="1756.63" y2="1741.85" stroke="#000" stroke-width="1.8"/>
<line x1="1773.97" y1="1760.21" x2="1773.97" y2="1776.05" stroke="#000" stroke-width="1.8"/>
<line x1="1767.97" y1="1760.21" x2="1779.97" y2="1760.21" stroke="#000" stroke-width="1.8"/>
<line x1="1746.93" y1="1735.31" x2="1777.62" y2="1735.31" stroke="#000" stroke-width="2"/>
<text x="1762.27" y="1726.75" text-anchor="middle" font-size="21">NS</text>
<rect x="1824.14" y="1741.85" width="18.86" height="105.89" fill="#cccccc"/>
<rect x="1848.04" y="1747.63" width="18.61" height="100.1" fill="#000"/>
<line x1="1827.28" y1="1741.85" x2="1839.88" y2="1741.85" stroke="#000" stroke-width="1.8"/>
<line x1="1857.34" y1="1740.84" x2="1857.34" y2="1748.13" stroke="#000" stroke-width="1.8"/>
<line x1="1851.34" y1="1740.84" x2="1863.34" y2="1740.84" stroke="#000" stroke-width="1.8"/>
<line x1="1830.18" y1="1734.3" x2="1860.87" y2="1734.3" stroke="#000" stroke-width="2"/>
<text x="1845.52" y="1726.75" text-anchor="middle" font-size="21">NS</text>
<rect x="1907.9" y="1741.85" width="18.61" height="105.89" fill="#cccccc"/>
<rect x="1931.29" y="1751.65" width="18.61" height="96.08" fill="#000"/>
<line x1="1910.9" y1="1741.85" x2="1923.5" y2="1741.85" stroke="#000" stroke-width="1.8"/>
<line x1="1940.59" y1="1733.8" x2="1940.59" y2="1752.15" stroke="#000" stroke-width="1.8"/>
<line x1="1934.59" y1="1733.8" x2="1946.59" y2="1733.8" stroke="#000" stroke-width="1.8"/>
<line x1="1913.43" y1="1727.01" x2="1944.37" y2="1727.01" stroke="#000" stroke-width="2"/>
<text x="1928.9" y="1719.46" text-anchor="middle" font-size="21">NS</text>
<rect x="1990.9" y="1741.85" width="18.86" height="105.89" fill="#cccccc"/>
<rect x="2014.54" y="1727.26" width="18.86" height="120.47" fill="#000"/>
<line x1="1994.03" y1="1741.85" x2="2006.63" y2="1741.85" stroke="#000" stroke-width="1.8"/>
<line x1="2023.97" y1="1690.79" x2="2023.97" y2="1727.76" stroke="#000" stroke-width="1.8"/>
<line x1="2017.97" y1="1690.79" x2="2029.97" y2="1690.79" stroke="#000" stroke-width="1.8"/>
<line x1="1997.18" y1="1684" x2="2027.62" y2="1684" stroke="#000" stroke-width="2"/>
<text x="2012.4" y="1674.94" text-anchor="middle" font-size="21">NS</text>
<text x="831.28" y="1879.17" text-anchor="middle">125a</text>
<text x="914.53" y="1879.17" text-anchor="middle">101a</text>
<text x="997.78" y="1879.17" text-anchor="middle">107</text>
<text x="1081.15" y="1879.17" text-anchor="middle">582</text>
<text x="1164.45" y="1879.17" text-anchor="middle">708</text>
<text x="1247.7" y="1879.17" text-anchor="middle">449a</text>
<text x="1331.71" y="1879.17" text-anchor="middle">1947</text>
<text x="1414.95" y="1879.17" text-anchor="middle">744</text>
<text x="1498.2" y="1879.17" text-anchor="middle">700</text>
<text x="1595.52" y="1879.17" text-anchor="middle">146b</text>
<text x="1679.02" y="1879.17" text-anchor="middle">467g</text>
<text x="1762.15" y="1879.17" text-anchor="middle">691</text>
<text x="1845.4" y="1879.17" text-anchor="middle">186</text>
<text x="1928.9" y="1879.17" text-anchor="middle">330</text>
<text x="2012.15" y="1879.17" text-anchor="middle">709</text>
<line x1="795.81" y1="1528.82" x2="795.81" y2="1848.73" stroke="#000" stroke-width="2"/>
<path d="M789.01 1847.73 H1541.09 V1890.49" fill="none" stroke="#000" stroke-width="2"/>
<path d="M1555.53 1890.49 V1847.73 H2043.71" fill="none" stroke="#000" stroke-width="2"/>
<line x1="1039.53" y1="1847.73" x2="1039.53" y2="1890.99" stroke="#000" stroke-width="2"/>
<line x1="1289.58" y1="1847.73" x2="1289.58" y2="1890.99" stroke="#000" stroke-width="2"/>
<line x1="1804.02" y1="1847.73" x2="1804.02" y2="1890.99" stroke="#000" stroke-width="2"/>
<line x1="789.01" y1="1529.82" x2="795.81" y2="1529.82" stroke="#000" stroke-width="2"/>
<text x="778" y="1538.12" text-anchor="end">3</text>
<line x1="789.01" y1="1635.71" x2="795.81" y2="1635.71" stroke="#000" stroke-width="2"/>
<text x="778" y="1644.01" text-anchor="end">2</text>
<line x1="789.01" y1="1741.85" x2="795.81" y2="1741.85" stroke="#000" stroke-width="2"/>
<text x="778" y="1750.15" text-anchor="end">1</text>
<line x1="789.01" y1="1847.73" x2="795.81" y2="1847.73" stroke="#000" stroke-width="2"/>
<text x="778" y="1856.03" text-anchor="end">0</text>
<text x="914.53" y="1919.66" text-anchor="middle" fill="#9a1aa6">Bilateral</text>
<text x="1164.45" y="1919.66" text-anchor="middle" fill="#4551a8">Upstream</text>
<text x="1414.95" y="1919.66" text-anchor="middle" fill="#45b70f">Downstream</text>
<text x="1679.02" y="1919.66" text-anchor="middle" fill="#e95d04">Depleted</text>
<text x="1928.9" y="1919.66" text-anchor="middle" fill="#9a9797">Flat</text>
<rect x="817.4" y="1533.3" width="23" height="22.6" fill="#cccccc"/>
<text x="847.2" y="1550.7" font-size="21">Si Control</text>
<rect x="962.8" y="1533.3" width="23" height="22.6" fill="#000"/>
<text x="992.3" y="1550.7" font-size="21">Si MeCP2</text>
<text text-anchor="middle" transform="translate(706 1689.5) rotate(-90)">Relative Ser2/Ser5</text>
<text text-anchor="middle" transform="translate(736 1689.5) rotate(-90)">occupancy</text>
<text x="667.6" y="1525.8" font-weight="bold" font-size="40">h</text>
<text x="0.3" y="1639.1" font-weight="bold" font-size="40">f</text>
<text x="151.4" y="1649.7" text-anchor="end">siMeCP</text>
<text x="221.3" y="1650" text-anchor="middle">–</text>
<text x="351.5" y="1651" text-anchor="middle">+</text>
<text x="151.6" y="1718.7" text-anchor="end">α-MeCP</text>
<text x="151.6" y="1829.2" text-anchor="end">α-GAPDH</text>
<defs>
<filter id="nz" x="0" y="0" width="100%" height="100%"><feTurbulence type="fractalNoise" baseFrequency="0.85" numOctaves="2" seed="7" result="t"/><feColorMatrix in="t" type="matrix" values="0 0 0 0 0  0 0 0 0 0  0 0 0 0 0  4 0 0 0 -2.15"/></filter>
<filter id="nzw" x="0" y="0" width="100%" height="100%"><feTurbulence type="fractalNoise" baseFrequency="0.9" numOctaves="2" seed="23" result="t"/><feColorMatrix in="t" type="matrix" values="0 0 0 0 1  0 0 0 0 1  0 0 0 0 1  5 0 0 0 -2.9"/></filter>
<filter id="b1" x="-20%" y="-60%" width="140%" height="220%"><feGaussianBlur stdDeviation="2.2"/></filter>
<filter id="b2" x="-20%" y="-80%" width="140%" height="260%"><feGaussianBlur stdDeviation="4.4 4"/></filter>
<filter id="b3" x="-30%" y="-100%" width="160%" height="300%"><feGaussianBlur stdDeviation="7 5.5"/></filter>
<linearGradient id="lg1" x1="0" y1="0" x2="1" y2="0"><stop offset="0" stop-color="#000" stop-opacity="0.05"/><stop offset="0.45" stop-color="#000" stop-opacity="0.035"/><stop offset="0.7" stop-color="#000" stop-opacity="0"/></linearGradient>
<clipPath id="cf1"><rect x="163" y="1662.6" width="246" height="95.9"/></clipPath>
<clipPath id="cf2"><rect x="163" y="1774" width="246" height="95.2"/></clipPath>
</defs>
<g clip-path="url(#cf1)">
<rect x="161" y="1661" width="250" height="99" fill="#d9d9d9"/>
<rect x="161" y="1661" width="250" height="99" fill="url(#lg1)"/>
<rect x="161" y="1661" width="250" height="99" fill="#000" filter="url(#nz)" opacity="0.2"/>
<rect x="161" y="1661" width="250" height="99" fill="#fff" filter="url(#nzw)" opacity="0.35"/>
<g filter="url(#b3)" opacity="0.32"><rect x="174" y="1694" width="100" height="30" rx="15" fill="#000"/></g>
<g filter="url(#b1)"><path d="M181 1699 Q200 1696.5 225 1699.5 Q250 1698 264 1696 Q272.5 1698 272.5 1707 Q272.5 1716 262 1717.5 Q235 1719 215 1719.5 Q200 1724 188 1723.5 Q173.5 1722 173.5 1710 Q173.5 1701 181 1699Z" fill="#0a0a0a"/></g>
</g>
<rect x="163" y="1662.6" width="246" height="95.9" fill="none" stroke="#000" stroke-width="3"/>
<g clip-path="url(#cf2)">
<rect x="161" y="1772" width="250" height="100" fill="#cecece"/>
<rect x="161" y="1772" width="250" height="100" fill="#000" filter="url(#nz)" opacity="0.13"/>
<rect x="161" y="1772" width="250" height="100" fill="#fff" filter="url(#nzw)" opacity="0.5"/>
<g filter="url(#b3)" opacity="0.5"><path d="M171.73 1823.83C175.17 1821.93 182.6 1818.4 190.74 1816.77C198.89 1815.14 210.21 1815.07 220.62 1814.05C231.04 1813.04 244.73 1811.34 253.22 1810.66C261.71 1809.98 267.75 1808.83 271.55 1809.98C275.36 1811.13 276.38 1814.82 276.04 1817.59C275.7 1820.35 274.68 1824.1 269.52 1826.55C264.36 1828.99 254.12 1830.67 245.07 1832.25C236.02 1833.84 224.7 1835.26 215.19 1836.06C205.68 1836.85 194.93 1837.41 188.03 1837.01C181.12 1836.6 176.76 1835.08 173.77 1833.61C170.78 1832.14 170.44 1829.81 170.1 1828.18C169.76 1826.55 168.29 1825.73 171.73 1823.83Z" fill="#000"/><path d="M285.14 1811.34C287.81 1809.32 290.23 1804.82 299.4 1802.78C308.56 1800.74 327.69 1800.09 340.14 1799.11C352.59 1798.14 365.38 1797.05 374.09 1796.94C382.81 1796.83 388.4 1796.81 392.43 1798.44C396.46 1800.07 398.27 1803.62 398.27 1806.72C398.27 1809.82 397.59 1814.51 392.43 1817.04C387.27 1819.58 377.15 1820.78 367.3 1821.93C357.46 1823.09 344.21 1823.45 333.35 1823.97C322.48 1824.49 309.69 1825.67 302.11 1825.06C294.53 1824.44 290.98 1822 287.85 1820.3C284.73 1818.6 283.82 1816.36 283.37 1814.87C282.92 1813.37 282.46 1813.35 285.14 1811.34Z" fill="#000"/><ellipse cx="165" cy="1822" rx="8" ry="9" fill="#000"/></g>
<g filter="url(#b2)"><path d="M171.73 1823.83C175.17 1821.93 182.6 1818.4 190.74 1816.77C198.89 1815.14 210.21 1815.07 220.62 1814.05C231.04 1813.04 244.73 1811.34 253.22 1810.66C261.71 1809.98 267.75 1808.83 271.55 1809.98C275.36 1811.13 276.38 1814.82 276.04 1817.59C275.7 1820.35 274.68 1824.1 269.52 1826.55C264.36 1828.99 254.12 1830.67 245.07 1832.25C236.02 1833.84 224.7 1835.26 215.19 1836.06C205.68 1836.85 194.93 1837.41 188.03 1837.01C181.12 1836.6 176.76 1835.08 173.77 1833.61C170.78 1832.14 170.44 1829.81 170.1 1828.18C169.76 1826.55 168.29 1825.73 171.73 1823.83Z" fill="#191919"/><path d="M285.14 1811.34C287.81 1809.32 290.23 1804.82 299.4 1802.78C308.56 1800.74 327.69 1800.09 340.14 1799.11C352.59 1798.14 365.38 1797.05 374.09 1796.94C382.81 1796.83 388.4 1796.81 392.43 1798.44C396.46 1800.07 398.27 1803.62 398.27 1806.72C398.27 1809.82 397.59 1814.51 392.43 1817.04C387.27 1819.58 377.15 1820.78 367.3 1821.93C357.46 1823.09 344.21 1823.45 333.35 1823.97C322.48 1824.49 309.69 1825.67 302.11 1825.06C294.53 1824.44 290.98 1822 287.85 1820.3C284.73 1818.6 283.82 1816.36 283.37 1814.87C282.92 1813.37 282.46 1813.35 285.14 1811.34Z" fill="#151515"/><ellipse cx="411" cy="1806.5" rx="6" ry="9" fill="#111"/></g>
</g>
<rect x="163" y="1774" width="246" height="95.2" fill="none" stroke="#000" stroke-width="3"/>
</svg>
</body></html>
